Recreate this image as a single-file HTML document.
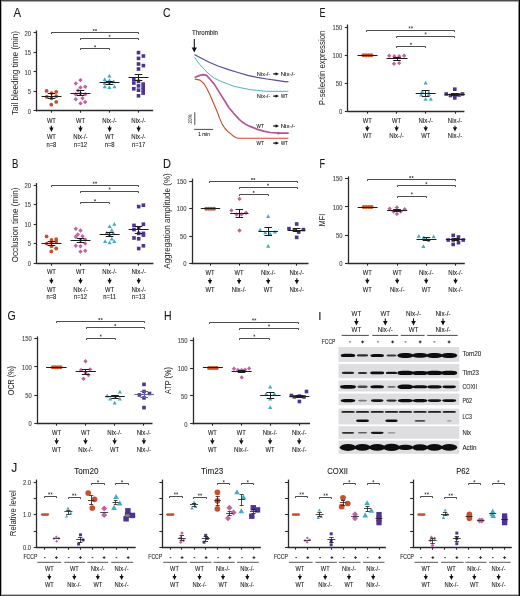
<!DOCTYPE html>
<html><head><meta charset="utf-8"><title>Figure</title>
<style>
html,body{margin:0;padding:0;background:#fff;}
body{width:520px;height:596px;overflow:hidden;}
svg{display:block;font-family:"Liberation Sans", sans-serif;will-change:transform;}
</style></head>
<body>
<svg width="520" height="596" viewBox="0 0 520 596">
<defs><filter id="bl" x="-20%" y="-60%" width="140%" height="220%"><feGaussianBlur stdDeviation="0.55"/></filter></defs>
<rect x="0" y="0" width="520" height="596" fill="#fff"/>
<text x="13.4" y="17" font-size="12" text-anchor="start" fill="#1a1a1a" stroke="#1a1a1a" stroke-width="0.1" textLength="7.6" lengthAdjust="spacingAndGlyphs">A</text>
<line x1="36.5" y1="30.5" x2="36.5" y2="111.3" stroke="#2a2a2a" stroke-width="1.3"/>
<line x1="33.6" y1="32.5" x2="36.5" y2="32.5" stroke="#2a2a2a" stroke-width="1.1"/>
<text x="31" y="35.5" font-size="6.8" text-anchor="end" fill="#444" stroke="#444" stroke-width="0.1" textLength="6.5" lengthAdjust="spacingAndGlyphs">20</text>
<line x1="33.6" y1="52.5" x2="36.5" y2="52.5" stroke="#2a2a2a" stroke-width="1.1"/>
<text x="31" y="55" font-size="6.8" text-anchor="end" fill="#444" stroke="#444" stroke-width="0.1" textLength="6.5" lengthAdjust="spacingAndGlyphs">15</text>
<line x1="33.6" y1="71.5" x2="36.5" y2="71.5" stroke="#2a2a2a" stroke-width="1.1"/>
<text x="31" y="74.5" font-size="6.8" text-anchor="end" fill="#444" stroke="#444" stroke-width="0.1" textLength="6.5" lengthAdjust="spacingAndGlyphs">10</text>
<line x1="33.6" y1="91.5" x2="36.5" y2="91.5" stroke="#2a2a2a" stroke-width="1.1"/>
<text x="31" y="94" font-size="6.8" text-anchor="end" fill="#444" stroke="#444" stroke-width="0.1" textLength="3.25" lengthAdjust="spacingAndGlyphs">5</text>
<line x1="33.6" y1="110.5" x2="36.5" y2="110.5" stroke="#2a2a2a" stroke-width="1.1"/>
<text x="31" y="113.5" font-size="6.8" text-anchor="end" fill="#444" stroke="#444" stroke-width="0.1" textLength="3.25" lengthAdjust="spacingAndGlyphs">0</text>
<line x1="36.1" y1="110.5" x2="153.2" y2="110.5" stroke="#2a2a2a" stroke-width="1.3"/>
<line x1="51.5" y1="110.5" x2="51.5" y2="112.7" stroke="#2a2a2a" stroke-width="1.1"/>
<line x1="80.5" y1="110.5" x2="80.5" y2="112.7" stroke="#2a2a2a" stroke-width="1.1"/>
<line x1="109.5" y1="110.5" x2="109.5" y2="112.7" stroke="#2a2a2a" stroke-width="1.1"/>
<line x1="138.5" y1="110.5" x2="138.5" y2="112.7" stroke="#2a2a2a" stroke-width="1.1"/>
<text transform="translate(18.3 73) rotate(-90)" x="0" y="0" font-size="8.2" text-anchor="middle" fill="#222" textLength="84" lengthAdjust="spacingAndGlyphs">Tail bleeding time (min)</text>
<path d="M51.5 34L51.5 32.5L138.5 32.5L138.5 34" fill="none" stroke="#3a3a3a" stroke-width="0.9"/>
<path d="M93.6 29.05L93.6 30.95M92.77 29.52L94.43 30.48M92.77 30.48L94.43 29.52" stroke="#3a3a3a" stroke-width="0.65" fill="none"/>
<path d="M96 29.05L96 30.95M95.17 29.52L96.83 30.48M95.17 30.48L96.83 29.52" stroke="#3a3a3a" stroke-width="0.65" fill="none"/>
<path d="M80.5 40L80.5 38.5L138.5 38.5L138.5 40" fill="none" stroke="#3a3a3a" stroke-width="0.9"/>
<path d="M109.55 34.85L109.55 36.75M108.72 35.32L110.38 36.27M108.72 36.27L110.38 35.32" stroke="#3a3a3a" stroke-width="0.65" fill="none"/>
<path d="M80.5 50L80.5 48.5L109.5 48.5L109.5 50" fill="none" stroke="#3a3a3a" stroke-width="0.9"/>
<path d="M95.15 45.35L95.15 47.25M94.32 45.82L95.98 46.77M94.32 46.77L95.98 45.82" stroke="#3a3a3a" stroke-width="0.65" fill="none"/>
<circle cx="46.6" cy="90.9" r="1.9" fill="#c94f2b"/>
<circle cx="51.5" cy="93.1" r="1.9" fill="#c94f2b"/>
<circle cx="56.2" cy="91.8" r="1.9" fill="#c94f2b"/>
<circle cx="46.8" cy="96.9" r="1.9" fill="#c94f2b"/>
<circle cx="51.5" cy="98.3" r="1.9" fill="#c94f2b"/>
<circle cx="56.2" cy="96.2" r="1.9" fill="#c94f2b"/>
<circle cx="56.2" cy="101.9" r="1.9" fill="#c94f2b"/>
<circle cx="51.3" cy="104.7" r="1.9" fill="#c94f2b"/>
<line x1="51.5" y1="93.5" x2="51.5" y2="98.5" stroke="#1e1e1e" stroke-width="1"/>
<line x1="47.7" y1="93.5" x2="55.3" y2="93.5" stroke="#1e1e1e" stroke-width="1"/>
<line x1="47.7" y1="98.5" x2="55.3" y2="98.5" stroke="#1e1e1e" stroke-width="1"/>
<line x1="41.5" y1="96.5" x2="61.5" y2="96.5" stroke="#1e1e1e" stroke-width="1"/>
<path d="M80.5 77.91L82.69 80.1L80.5 82.28L78.31 80.1Z" fill="#c2629f"/>
<path d="M75.8 81.31L77.98 83.5L75.8 85.69L73.61 83.5Z" fill="#c2629f"/>
<path d="M80.5 85.31L82.69 87.5L80.5 89.69L78.31 87.5Z" fill="#c2629f"/>
<path d="M85.2 84.61L87.39 86.8L85.2 88.98L83.02 86.8Z" fill="#c2629f"/>
<path d="M75.8 92.02L77.98 94.2L75.8 96.39L73.61 94.2Z" fill="#c2629f"/>
<path d="M80.5 91.31L82.69 93.5L80.5 95.69L78.31 93.5Z" fill="#c2629f"/>
<path d="M85.2 92.02L87.39 94.2L85.2 96.39L83.02 94.2Z" fill="#c2629f"/>
<path d="M75.8 97.11L77.98 99.3L75.8 101.48L73.61 99.3Z" fill="#c2629f"/>
<path d="M82.5 96.11L84.69 98.3L82.5 100.48L80.31 98.3Z" fill="#c2629f"/>
<path d="M85.2 99.81L87.39 102L85.2 104.19L83.02 102Z" fill="#c2629f"/>
<path d="M80.5 101.22L82.69 103.4L80.5 105.59L78.31 103.4Z" fill="#c2629f"/>
<path d="M78 88.31L80.19 90.5L78 92.69L75.81 90.5Z" fill="#c2629f"/>
<line x1="80.5" y1="90.5" x2="80.5" y2="95.5" stroke="#1e1e1e" stroke-width="1"/>
<line x1="76.7" y1="90.5" x2="84.3" y2="90.5" stroke="#1e1e1e" stroke-width="1"/>
<line x1="76.7" y1="95.5" x2="84.3" y2="95.5" stroke="#1e1e1e" stroke-width="1"/>
<line x1="70.5" y1="93.5" x2="90.5" y2="93.5" stroke="#1e1e1e" stroke-width="1"/>
<path d="M109.4 73.83L111.49 77.59L107.31 77.59Z" fill="#43aebf"/>
<path d="M104.7 77.33L106.79 81.09L102.61 81.09Z" fill="#43aebf"/>
<path d="M109.4 78.23L111.49 81.99L107.31 81.99Z" fill="#43aebf"/>
<path d="M113.8 79.53L115.89 83.29L111.71 83.29Z" fill="#43aebf"/>
<path d="M104.7 80.93L106.79 84.69L102.61 84.69Z" fill="#43aebf"/>
<path d="M109.4 80.93L111.49 84.69L107.31 84.69Z" fill="#43aebf"/>
<path d="M104.7 84.53L106.79 88.29L102.61 88.29Z" fill="#43aebf"/>
<path d="M109.4 85.33L111.49 89.09L107.31 89.09Z" fill="#43aebf"/>
<path d="M114.5 84.53L116.59 88.29L112.41 88.29Z" fill="#43aebf"/>
<line x1="109.5" y1="81.5" x2="109.5" y2="84.5" stroke="#1e1e1e" stroke-width="1"/>
<line x1="105.7" y1="81.5" x2="113.3" y2="81.5" stroke="#1e1e1e" stroke-width="1"/>
<line x1="105.7" y1="84.5" x2="113.3" y2="84.5" stroke="#1e1e1e" stroke-width="1"/>
<line x1="99.5" y1="82.5" x2="119.5" y2="82.5" stroke="#1e1e1e" stroke-width="1"/>
<rect x="136.69" y="50.8" width="3.61" height="3.61" fill="#4e3490"/>
<rect x="141.59" y="54.2" width="3.61" height="3.61" fill="#4e3490"/>
<rect x="136.69" y="56.59" width="3.61" height="3.61" fill="#4e3490"/>
<rect x="136.69" y="62.2" width="3.61" height="3.61" fill="#4e3490"/>
<rect x="141.59" y="63.79" width="3.61" height="3.61" fill="#4e3490"/>
<rect x="136.69" y="67.19" width="3.61" height="3.61" fill="#4e3490"/>
<rect x="132" y="77.59" width="3.61" height="3.61" fill="#4e3490"/>
<rect x="132" y="81.19" width="3.61" height="3.61" fill="#4e3490"/>
<rect x="136.69" y="79.59" width="3.61" height="3.61" fill="#4e3490"/>
<rect x="141.39" y="82.29" width="3.61" height="3.61" fill="#4e3490"/>
<rect x="141.39" y="85.39" width="3.61" height="3.61" fill="#4e3490"/>
<rect x="136.69" y="84.09" width="3.61" height="3.61" fill="#4e3490"/>
<rect x="132" y="86.99" width="3.61" height="3.61" fill="#4e3490"/>
<rect x="136.69" y="88.39" width="3.61" height="3.61" fill="#4e3490"/>
<rect x="141.39" y="88.39" width="3.61" height="3.61" fill="#4e3490"/>
<rect x="141.39" y="91.29" width="3.61" height="3.61" fill="#4e3490"/>
<rect x="136.69" y="93.99" width="3.61" height="3.61" fill="#4e3490"/>
<line x1="138.5" y1="74.5" x2="138.5" y2="80.5" stroke="#1e1e1e" stroke-width="1"/>
<line x1="134.7" y1="74.5" x2="142.3" y2="74.5" stroke="#1e1e1e" stroke-width="1"/>
<line x1="134.7" y1="80.5" x2="142.3" y2="80.5" stroke="#1e1e1e" stroke-width="1"/>
<line x1="128.5" y1="77.5" x2="148.5" y2="77.5" stroke="#1e1e1e" stroke-width="1"/>
<text x="51.4" y="123" font-size="7" text-anchor="middle" fill="#222" stroke="#222" stroke-width="0.1" textLength="9" lengthAdjust="spacingAndGlyphs">WT</text>
<line x1="51.4" y1="125.8" x2="51.4" y2="127.9" stroke="#111" stroke-width="1.1"/>
<path d="M49.2 127.6L53.6 127.6L51.4 131.9Z" fill="#111"/>
<text x="51.4" y="138.9" font-size="7" text-anchor="middle" fill="#222" stroke="#222" stroke-width="0.1" textLength="9" lengthAdjust="spacingAndGlyphs">WT</text>
<text x="51.4" y="146.6" font-size="6.3" text-anchor="middle" fill="#222" stroke="#222" stroke-width="0.1" textLength="9.94" lengthAdjust="spacingAndGlyphs">n=8</text>
<text x="80.5" y="123" font-size="7" text-anchor="middle" fill="#222" stroke="#222" stroke-width="0.1" textLength="9" lengthAdjust="spacingAndGlyphs">WT</text>
<line x1="80.5" y1="125.8" x2="80.5" y2="127.9" stroke="#111" stroke-width="1.1"/>
<path d="M78.3 127.6L82.7 127.6L80.5 131.9Z" fill="#111"/>
<text x="80.5" y="138.9" font-size="7" text-anchor="middle" fill="#222" stroke="#222" stroke-width="0.1" textLength="14.5" lengthAdjust="spacingAndGlyphs">Nix-/-</text>
<text x="80.5" y="146.6" font-size="6.3" text-anchor="middle" fill="#222" stroke="#222" stroke-width="0.1" textLength="13.2" lengthAdjust="spacingAndGlyphs">n=12</text>
<text x="109.6" y="123" font-size="7" text-anchor="middle" fill="#222" stroke="#222" stroke-width="0.1" textLength="14.5" lengthAdjust="spacingAndGlyphs">Nix-/-</text>
<line x1="109.6" y1="125.8" x2="109.6" y2="127.9" stroke="#111" stroke-width="1.1"/>
<path d="M107.4 127.6L111.8 127.6L109.6 131.9Z" fill="#111"/>
<text x="109.6" y="138.9" font-size="7" text-anchor="middle" fill="#222" stroke="#222" stroke-width="0.1" textLength="9" lengthAdjust="spacingAndGlyphs">WT</text>
<text x="109.6" y="146.6" font-size="6.3" text-anchor="middle" fill="#222" stroke="#222" stroke-width="0.1" textLength="9.94" lengthAdjust="spacingAndGlyphs">n=8</text>
<text x="138.6" y="123" font-size="7" text-anchor="middle" fill="#222" stroke="#222" stroke-width="0.1" textLength="14.5" lengthAdjust="spacingAndGlyphs">Nix-/-</text>
<line x1="138.6" y1="125.8" x2="138.6" y2="127.9" stroke="#111" stroke-width="1.1"/>
<path d="M136.4 127.6L140.8 127.6L138.6 131.9Z" fill="#111"/>
<text x="138.6" y="138.9" font-size="7" text-anchor="middle" fill="#222" stroke="#222" stroke-width="0.1" textLength="14.5" lengthAdjust="spacingAndGlyphs">Nix-/-</text>
<text x="138.6" y="146.6" font-size="6.3" text-anchor="middle" fill="#222" stroke="#222" stroke-width="0.1" textLength="13.2" lengthAdjust="spacingAndGlyphs">n=17</text>
<text x="11.9" y="167.6" font-size="12" text-anchor="start" fill="#1a1a1a" stroke="#1a1a1a" stroke-width="0.1" textLength="6.4" lengthAdjust="spacingAndGlyphs">B</text>
<line x1="36.5" y1="183" x2="36.5" y2="263.8" stroke="#2a2a2a" stroke-width="1.3"/>
<line x1="33.7" y1="185.5" x2="36.5" y2="185.5" stroke="#2a2a2a" stroke-width="1.1"/>
<text x="31.1" y="187.8" font-size="6.8" text-anchor="end" fill="#444" stroke="#444" stroke-width="0.1" textLength="6.5" lengthAdjust="spacingAndGlyphs">20</text>
<line x1="33.7" y1="204.5" x2="36.5" y2="204.5" stroke="#2a2a2a" stroke-width="1.1"/>
<text x="31.1" y="207.35" font-size="6.8" text-anchor="end" fill="#444" stroke="#444" stroke-width="0.1" textLength="6.5" lengthAdjust="spacingAndGlyphs">15</text>
<line x1="33.7" y1="224.5" x2="36.5" y2="224.5" stroke="#2a2a2a" stroke-width="1.1"/>
<text x="31.1" y="226.9" font-size="6.8" text-anchor="end" fill="#444" stroke="#444" stroke-width="0.1" textLength="6.5" lengthAdjust="spacingAndGlyphs">10</text>
<line x1="33.7" y1="243.5" x2="36.5" y2="243.5" stroke="#2a2a2a" stroke-width="1.1"/>
<text x="31.1" y="246.45" font-size="6.8" text-anchor="end" fill="#444" stroke="#444" stroke-width="0.1" textLength="3.25" lengthAdjust="spacingAndGlyphs">5</text>
<line x1="33.7" y1="263.5" x2="36.5" y2="263.5" stroke="#2a2a2a" stroke-width="1.1"/>
<text x="31.1" y="266" font-size="6.8" text-anchor="end" fill="#444" stroke="#444" stroke-width="0.1" textLength="3.25" lengthAdjust="spacingAndGlyphs">0</text>
<line x1="36.2" y1="263.5" x2="153.4" y2="263.5" stroke="#2a2a2a" stroke-width="1.3"/>
<line x1="51.5" y1="263.5" x2="51.5" y2="265.7" stroke="#2a2a2a" stroke-width="1.1"/>
<line x1="80.5" y1="263.5" x2="80.5" y2="265.7" stroke="#2a2a2a" stroke-width="1.1"/>
<line x1="109.5" y1="263.5" x2="109.5" y2="265.7" stroke="#2a2a2a" stroke-width="1.1"/>
<line x1="138.5" y1="263.5" x2="138.5" y2="265.7" stroke="#2a2a2a" stroke-width="1.1"/>
<text transform="translate(18.3 225) rotate(-90)" x="0" y="0" font-size="8.2" text-anchor="middle" fill="#222" textLength="75" lengthAdjust="spacingAndGlyphs">Occlusion time (min)</text>
<path d="M51.5 187L51.5 185.5L138.5 185.5L138.5 187" fill="none" stroke="#3a3a3a" stroke-width="0.9"/>
<path d="M93.65 181.75L93.65 183.65M92.82 182.23L94.48 183.18M92.82 183.18L94.48 182.23" stroke="#3a3a3a" stroke-width="0.65" fill="none"/>
<path d="M96.05 181.75L96.05 183.65M95.22 182.23L96.88 183.18M95.22 183.18L96.88 182.23" stroke="#3a3a3a" stroke-width="0.65" fill="none"/>
<path d="M80.5 193L80.5 191.5L138.5 191.5L138.5 193" fill="none" stroke="#3a3a3a" stroke-width="0.9"/>
<path d="M109.6 187.55L109.6 189.45M108.77 188.03L110.43 188.97M108.77 188.97L110.43 188.03" stroke="#3a3a3a" stroke-width="0.65" fill="none"/>
<path d="M80.5 204L80.5 202.5L109.5 202.5L109.5 204" fill="none" stroke="#3a3a3a" stroke-width="0.9"/>
<path d="M95.05 199.35L95.05 201.25M94.22 199.83L95.88 200.78M94.22 200.78L95.88 199.83" stroke="#3a3a3a" stroke-width="0.65" fill="none"/>
<circle cx="46.6" cy="236.4" r="1.9" fill="#c94f2b"/>
<circle cx="51.5" cy="239.9" r="1.9" fill="#c94f2b"/>
<circle cx="56.2" cy="239.1" r="1.9" fill="#c94f2b"/>
<circle cx="46.8" cy="243.6" r="1.9" fill="#c94f2b"/>
<circle cx="51.5" cy="242.2" r="1.9" fill="#c94f2b"/>
<circle cx="56.2" cy="241.5" r="1.9" fill="#c94f2b"/>
<circle cx="51.5" cy="246.2" r="1.9" fill="#c94f2b"/>
<circle cx="56.2" cy="248.5" r="1.9" fill="#c94f2b"/>
<circle cx="51.3" cy="251.4" r="1.9" fill="#c94f2b"/>
<line x1="51.5" y1="241.5" x2="51.5" y2="245.5" stroke="#1e1e1e" stroke-width="1"/>
<line x1="47.7" y1="241.5" x2="55.3" y2="241.5" stroke="#1e1e1e" stroke-width="1"/>
<line x1="47.7" y1="245.5" x2="55.3" y2="245.5" stroke="#1e1e1e" stroke-width="1"/>
<line x1="41.5" y1="243.5" x2="61.5" y2="243.5" stroke="#1e1e1e" stroke-width="1"/>
<path d="M75.8 226.51L77.98 228.7L75.8 230.88L73.61 228.7Z" fill="#c2629f"/>
<path d="M80.5 228.31L82.69 230.5L80.5 232.69L78.31 230.5Z" fill="#c2629f"/>
<path d="M77.8 232.31L79.98 234.5L77.8 236.69L75.61 234.5Z" fill="#c2629f"/>
<path d="M75.8 234.62L77.98 236.8L75.8 238.99L73.61 236.8Z" fill="#c2629f"/>
<path d="M82.5 234.01L84.69 236.2L82.5 238.38L80.31 236.2Z" fill="#c2629f"/>
<path d="M85.2 237.31L87.39 239.5L85.2 241.69L83.02 239.5Z" fill="#c2629f"/>
<path d="M80.5 238.01L82.69 240.2L80.5 242.38L78.31 240.2Z" fill="#c2629f"/>
<path d="M85.2 241.41L87.39 243.6L85.2 245.78L83.02 243.6Z" fill="#c2629f"/>
<path d="M75.8 243.62L77.98 245.8L75.8 247.99L73.61 245.8Z" fill="#c2629f"/>
<path d="M80.5 244.01L82.69 246.2L80.5 248.38L78.31 246.2Z" fill="#c2629f"/>
<path d="M80.5 249.41L82.69 251.6L80.5 253.78L78.31 251.6Z" fill="#c2629f"/>
<path d="M85.2 248.51L87.39 250.7L85.2 252.88L83.02 250.7Z" fill="#c2629f"/>
<line x1="80.5" y1="238.5" x2="80.5" y2="242.5" stroke="#1e1e1e" stroke-width="1"/>
<line x1="76.7" y1="238.5" x2="84.3" y2="238.5" stroke="#1e1e1e" stroke-width="1"/>
<line x1="76.7" y1="242.5" x2="84.3" y2="242.5" stroke="#1e1e1e" stroke-width="1"/>
<line x1="70.5" y1="240.5" x2="90.5" y2="240.5" stroke="#1e1e1e" stroke-width="1"/>
<path d="M114.3 221.93L116.39 225.69L112.21 225.69Z" fill="#43aebf"/>
<path d="M109.6 224.13L111.69 227.89L107.51 227.89Z" fill="#43aebf"/>
<path d="M111.8 228.03L113.89 231.79L109.71 231.79Z" fill="#43aebf"/>
<path d="M106.8 230.83L108.89 234.59L104.71 234.59Z" fill="#43aebf"/>
<path d="M113.5 231.33L115.59 235.09L111.41 235.09Z" fill="#43aebf"/>
<path d="M109.6 232.53L111.69 236.29L107.51 236.29Z" fill="#43aebf"/>
<path d="M111.8 236.73L113.89 240.49L109.71 240.49Z" fill="#43aebf"/>
<path d="M105.1 239.23L107.19 242.99L103.01 242.99Z" fill="#43aebf"/>
<path d="M109.6 240.43L111.69 244.19L107.51 244.19Z" fill="#43aebf"/>
<path d="M114.3 239.23L116.39 242.99L112.21 242.99Z" fill="#43aebf"/>
<line x1="109.5" y1="232.5" x2="109.5" y2="236.5" stroke="#1e1e1e" stroke-width="1"/>
<line x1="105.8" y1="232.5" x2="113.4" y2="232.5" stroke="#1e1e1e" stroke-width="1"/>
<line x1="105.8" y1="236.5" x2="113.4" y2="236.5" stroke="#1e1e1e" stroke-width="1"/>
<line x1="99.6" y1="234.5" x2="119.6" y2="234.5" stroke="#1e1e1e" stroke-width="1"/>
<rect x="136.89" y="204.79" width="3.61" height="3.61" fill="#4e3490"/>
<rect x="141.59" y="203.39" width="3.61" height="3.61" fill="#4e3490"/>
<rect x="132.19" y="223.59" width="3.61" height="3.61" fill="#4e3490"/>
<rect x="141.59" y="222.39" width="3.61" height="3.61" fill="#4e3490"/>
<rect x="132.19" y="227.79" width="3.61" height="3.61" fill="#4e3490"/>
<rect x="136.89" y="226.09" width="3.61" height="3.61" fill="#4e3490"/>
<rect x="136.89" y="231.59" width="3.61" height="3.61" fill="#4e3490"/>
<rect x="141.59" y="231.59" width="3.61" height="3.61" fill="#4e3490"/>
<rect x="132.19" y="236.19" width="3.61" height="3.61" fill="#4e3490"/>
<rect x="136.89" y="237" width="3.61" height="3.61" fill="#4e3490"/>
<rect x="141.59" y="233.29" width="3.61" height="3.61" fill="#4e3490"/>
<rect x="136.89" y="246.69" width="3.61" height="3.61" fill="#4e3490"/>
<rect x="141.59" y="244" width="3.61" height="3.61" fill="#4e3490"/>
<line x1="138.5" y1="226.5" x2="138.5" y2="233.5" stroke="#1e1e1e" stroke-width="1"/>
<line x1="134.8" y1="226.5" x2="142.4" y2="226.5" stroke="#1e1e1e" stroke-width="1"/>
<line x1="134.8" y1="233.5" x2="142.4" y2="233.5" stroke="#1e1e1e" stroke-width="1"/>
<line x1="128.6" y1="229.5" x2="148.6" y2="229.5" stroke="#1e1e1e" stroke-width="1"/>
<text x="51.4" y="274.3" font-size="7" text-anchor="middle" fill="#222" stroke="#222" stroke-width="0.1" textLength="9" lengthAdjust="spacingAndGlyphs">WT</text>
<line x1="51.4" y1="278" x2="51.4" y2="280.1" stroke="#111" stroke-width="1.1"/>
<path d="M49.2 279.8L53.6 279.8L51.4 284.1Z" fill="#111"/>
<text x="51.4" y="291.6" font-size="7" text-anchor="middle" fill="#222" stroke="#222" stroke-width="0.1" textLength="9" lengthAdjust="spacingAndGlyphs">WT</text>
<text x="51.4" y="299.3" font-size="6.3" text-anchor="middle" fill="#222" stroke="#222" stroke-width="0.1" textLength="9.94" lengthAdjust="spacingAndGlyphs">n=8</text>
<text x="80.5" y="274.3" font-size="7" text-anchor="middle" fill="#222" stroke="#222" stroke-width="0.1" textLength="9" lengthAdjust="spacingAndGlyphs">WT</text>
<line x1="80.5" y1="278" x2="80.5" y2="280.1" stroke="#111" stroke-width="1.1"/>
<path d="M78.3 279.8L82.7 279.8L80.5 284.1Z" fill="#111"/>
<text x="80.5" y="291.6" font-size="7" text-anchor="middle" fill="#222" stroke="#222" stroke-width="0.1" textLength="14.5" lengthAdjust="spacingAndGlyphs">Nix-/-</text>
<text x="80.5" y="299.3" font-size="6.3" text-anchor="middle" fill="#222" stroke="#222" stroke-width="0.1" textLength="13.2" lengthAdjust="spacingAndGlyphs">n=12</text>
<text x="109.6" y="274.3" font-size="7" text-anchor="middle" fill="#222" stroke="#222" stroke-width="0.1" textLength="14.5" lengthAdjust="spacingAndGlyphs">Nix-/-</text>
<line x1="109.6" y1="278" x2="109.6" y2="280.1" stroke="#111" stroke-width="1.1"/>
<path d="M107.4 279.8L111.8 279.8L109.6 284.1Z" fill="#111"/>
<text x="109.6" y="291.6" font-size="7" text-anchor="middle" fill="#222" stroke="#222" stroke-width="0.1" textLength="9" lengthAdjust="spacingAndGlyphs">WT</text>
<text x="109.6" y="299.3" font-size="6.3" text-anchor="middle" fill="#222" stroke="#222" stroke-width="0.1" textLength="12.76" lengthAdjust="spacingAndGlyphs">n=11</text>
<text x="138.7" y="274.3" font-size="7" text-anchor="middle" fill="#222" stroke="#222" stroke-width="0.1" textLength="14.5" lengthAdjust="spacingAndGlyphs">Nix-/-</text>
<line x1="138.7" y1="278" x2="138.7" y2="280.1" stroke="#111" stroke-width="1.1"/>
<path d="M136.5 279.8L140.9 279.8L138.7 284.1Z" fill="#111"/>
<text x="138.7" y="291.6" font-size="7" text-anchor="middle" fill="#222" stroke="#222" stroke-width="0.1" textLength="14.5" lengthAdjust="spacingAndGlyphs">Nix-/-</text>
<text x="138.7" y="299.3" font-size="6.3" text-anchor="middle" fill="#222" stroke="#222" stroke-width="0.1" textLength="13.2" lengthAdjust="spacingAndGlyphs">n=13</text>
<text x="163.1" y="17.3" font-size="12" text-anchor="start" fill="#1a1a1a" stroke="#1a1a1a" stroke-width="0.1" textLength="7.6" lengthAdjust="spacingAndGlyphs">C</text>
<text x="192" y="34.6" font-size="6.3" text-anchor="start" fill="#222" stroke="#222" stroke-width="0.1" textLength="26" lengthAdjust="spacingAndGlyphs">Thrombin</text>
<line x1="194.3" y1="39" x2="194.3" y2="47.9" stroke="#111" stroke-width="1.1"/>
<path d="M191.7 47.6L196.9 47.6L194.3 52.6Z" fill="#111"/>
<path d="M194.8 54.8 L200 57.5 L209.2 62.3 L218 66 L228.5 69.6 L238 72.5 L247.7 75.3 L257 77.4 L266.9 79 L276.5 80.4 L286.5 81.8 L288 81.6" fill="none" stroke="#5b4a9c" stroke-width="1.2" stroke-linejoin="round" stroke-linecap="round"/>
<path d="M194.8 57.9 L199.6 64.2 L204.8 70 L209.6 74.6 L214.4 78.3 L219.2 80.5 L224 82.5 L228.8 84.4 L233.7 86.2 L238.5 87.3 L243.3 88.3 L250 89.6 L256.8 90.4 L266.2 91.3 L288 91.3" fill="none" stroke="#4db5c0" stroke-width="1" stroke-linejoin="round" stroke-linecap="round"/>
<path d="M195.2 77.2 L199 75.6 L203 74.6 L206.5 75.4 L209.6 78.7 L214.4 84.4 L219.2 92.1 L224 99.8 L228.8 107.5 L233.7 113.3 L238.5 118.6 L242.1 122 L246 124.4 L250.1 126.4 L256.8 129.1 L263.6 131.1 L270.3 132.5 L278.3 133.2 L288 133.2" fill="none" stroke="#b4559a" stroke-width="1.7" stroke-linejoin="round" stroke-linecap="round"/>
<circle cx="278.3" cy="133.2" r="1.4" fill="#b4559a"/>
<path d="M195.2 79.1 L200 80.1 L203.8 83.5 L206.7 88.3 L209.6 94 L212.5 100.8 L215.4 107.5 L217.8 113.3 L219.7 118.6 L222.3 124.4 L225 128.5 L228 131.6 L230 133.2 L233 135.8 L235.4 137.5 L238 138.3 L288 138.3" fill="none" stroke="#cc4a28" stroke-width="1.1" stroke-linejoin="round" stroke-linecap="round"/>
<text x="256.8" y="75.9" font-size="5.6" text-anchor="start" fill="#222" stroke="#222" stroke-width="0.1" textLength="13.5" lengthAdjust="spacingAndGlyphs">Nix-/-</text>
<line x1="273.2" y1="73.9" x2="276" y2="73.9" stroke="#111" stroke-width="1.3"/>
<path d="M275.6 72.2L279 73.9L275.6 75.6Z" fill="#111"/>
<text x="280.7" y="75.9" font-size="5.6" text-anchor="start" fill="#222" stroke="#222" stroke-width="0.1" textLength="14.5" lengthAdjust="spacingAndGlyphs">Nix-/-</text>
<text x="256.8" y="98.1" font-size="5.6" text-anchor="start" fill="#222" stroke="#222" stroke-width="0.1" textLength="13.5" lengthAdjust="spacingAndGlyphs">Nix-/-</text>
<line x1="273.2" y1="96.1" x2="276" y2="96.1" stroke="#111" stroke-width="1.3"/>
<path d="M275.6 94.4L279 96.1L275.6 97.8Z" fill="#111"/>
<text x="280.9" y="98" font-size="5.2" text-anchor="start" fill="#222" stroke="#222" stroke-width="0.1" textLength="6.8" lengthAdjust="spacingAndGlyphs">WT</text>
<text x="256.6" y="127.9" font-size="5.2" text-anchor="start" fill="#222" stroke="#222" stroke-width="0.1" textLength="7.2" lengthAdjust="spacingAndGlyphs">WT</text>
<line x1="273.2" y1="126" x2="276" y2="126" stroke="#111" stroke-width="1.3"/>
<path d="M275.6 124.3L279 126L275.6 127.7Z" fill="#111"/>
<text x="280.7" y="128" font-size="5.6" text-anchor="start" fill="#222" stroke="#222" stroke-width="0.1" textLength="14.5" lengthAdjust="spacingAndGlyphs">Nix-/-</text>
<text x="256.6" y="145" font-size="5.2" text-anchor="start" fill="#222" stroke="#222" stroke-width="0.1" textLength="7.2" lengthAdjust="spacingAndGlyphs">WT</text>
<line x1="273.2" y1="143.1" x2="276" y2="143.1" stroke="#111" stroke-width="1.3"/>
<path d="M275.6 141.4L279 143.1L275.6 144.8Z" fill="#111"/>
<text x="280.9" y="145" font-size="5.2" text-anchor="start" fill="#222" stroke="#222" stroke-width="0.1" textLength="6.8" lengthAdjust="spacingAndGlyphs">WT</text>
<line x1="194.8" y1="112.4" x2="194.8" y2="124.8" stroke="#333" stroke-width="0.9"/>
<text transform="translate(192.2 118.8) rotate(-90)" font-size="5.0" text-anchor="middle" fill="#333" textLength="9.5" lengthAdjust="spacingAndGlyphs">20%</text>
<line x1="194.2" y1="129.4" x2="213.2" y2="129.4" stroke="#333" stroke-width="0.9"/>
<text x="204" y="135.8" font-size="5" text-anchor="middle" fill="#222" stroke="#222" stroke-width="0.1" textLength="11.5" lengthAdjust="spacingAndGlyphs">1 min</text>
<text x="163" y="167.6" font-size="12" text-anchor="start" fill="#1a1a1a" stroke="#1a1a1a" stroke-width="0.1" textLength="8" lengthAdjust="spacingAndGlyphs">D</text>
<line x1="192.5" y1="178.6" x2="192.5" y2="264.1" stroke="#2a2a2a" stroke-width="1.3"/>
<line x1="189.2" y1="181.5" x2="192.5" y2="181.5" stroke="#2a2a2a" stroke-width="1.1"/>
<text x="186.6" y="183.9" font-size="6.8" text-anchor="end" fill="#444" stroke="#444" stroke-width="0.1" textLength="9.76" lengthAdjust="spacingAndGlyphs">150</text>
<line x1="189.2" y1="208.5" x2="192.5" y2="208.5" stroke="#2a2a2a" stroke-width="1.1"/>
<text x="186.6" y="211.37" font-size="6.8" text-anchor="end" fill="#444" stroke="#444" stroke-width="0.1" textLength="9.76" lengthAdjust="spacingAndGlyphs">100</text>
<line x1="189.2" y1="236.5" x2="192.5" y2="236.5" stroke="#2a2a2a" stroke-width="1.1"/>
<text x="186.6" y="238.83" font-size="6.8" text-anchor="end" fill="#444" stroke="#444" stroke-width="0.1" textLength="6.5" lengthAdjust="spacingAndGlyphs">50</text>
<line x1="189.2" y1="263.5" x2="192.5" y2="263.5" stroke="#2a2a2a" stroke-width="1.1"/>
<text x="186.6" y="266.3" font-size="6.8" text-anchor="end" fill="#444" stroke="#444" stroke-width="0.1" textLength="3.25" lengthAdjust="spacingAndGlyphs">0</text>
<line x1="191.7" y1="263.5" x2="308.5" y2="263.5" stroke="#2a2a2a" stroke-width="1.3"/>
<line x1="210.5" y1="263.5" x2="210.5" y2="265.7" stroke="#2a2a2a" stroke-width="1.1"/>
<line x1="239.5" y1="263.5" x2="239.5" y2="265.7" stroke="#2a2a2a" stroke-width="1.1"/>
<line x1="268.5" y1="263.5" x2="268.5" y2="265.7" stroke="#2a2a2a" stroke-width="1.1"/>
<line x1="296.5" y1="263.5" x2="296.5" y2="265.7" stroke="#2a2a2a" stroke-width="1.1"/>
<text transform="translate(169.5 221) rotate(-90)" x="0" y="0" font-size="8.6" text-anchor="middle" fill="#222" textLength="95.5" lengthAdjust="spacingAndGlyphs">Aggregation amplitude (%)</text>
<path d="M209.5 183L209.5 181.5L297.5 181.5L297.5 183" fill="none" stroke="#3a3a3a" stroke-width="0.9"/>
<path d="M251.95 178.05L251.95 179.95M251.12 178.53L252.78 179.47M251.12 179.47L252.78 178.53" stroke="#3a3a3a" stroke-width="0.65" fill="none"/>
<path d="M254.35 178.05L254.35 179.95M253.52 178.53L255.18 179.47M253.52 179.47L255.18 178.53" stroke="#3a3a3a" stroke-width="0.65" fill="none"/>
<path d="M239.5 189L239.5 187.5L297.5 187.5L297.5 189" fill="none" stroke="#3a3a3a" stroke-width="0.9"/>
<path d="M268.05 183.75L268.05 185.65M267.22 184.23L268.88 185.18M267.22 185.18L268.88 184.23" stroke="#3a3a3a" stroke-width="0.65" fill="none"/>
<path d="M239.5 196L239.5 194.5L268.5 194.5L268.5 196" fill="none" stroke="#3a3a3a" stroke-width="0.9"/>
<path d="M253.65 190.95L253.65 192.85M252.82 191.43L254.48 192.38M252.82 192.38L254.48 191.43" stroke="#3a3a3a" stroke-width="0.65" fill="none"/>
<circle cx="206.2" cy="208.8" r="2" fill="#c94f2b"/>
<circle cx="208.8" cy="208.8" r="2" fill="#c94f2b"/>
<circle cx="211.4" cy="208.8" r="2" fill="#c94f2b"/>
<circle cx="214" cy="208.8" r="2" fill="#c94f2b"/>
<line x1="200.8" y1="208.5" x2="220.2" y2="208.5" stroke="#1e1e1e" stroke-width="1"/>
<path d="M239.5 196.72L241.69 198.9L239.5 201.09L237.31 198.9Z" fill="#c2629f"/>
<path d="M231.4 208.22L233.59 210.4L231.4 212.59L229.22 210.4Z" fill="#c2629f"/>
<path d="M236.5 212.22L238.69 214.4L236.5 216.59L234.31 214.4Z" fill="#c2629f"/>
<path d="M241.5 212.22L243.69 214.4L241.5 216.59L239.31 214.4Z" fill="#c2629f"/>
<path d="M246.1 210.62L248.28 212.8L246.1 214.99L243.91 212.8Z" fill="#c2629f"/>
<path d="M239.5 228.31L241.69 230.5L239.5 232.69L237.31 230.5Z" fill="#c2629f"/>
<line x1="239.5" y1="209.5" x2="239.5" y2="217.5" stroke="#1e1e1e" stroke-width="1"/>
<line x1="235.5" y1="209.5" x2="243.1" y2="209.5" stroke="#1e1e1e" stroke-width="1"/>
<line x1="235.5" y1="217.5" x2="243.1" y2="217.5" stroke="#1e1e1e" stroke-width="1"/>
<line x1="230.1" y1="213.5" x2="248.5" y2="213.5" stroke="#1e1e1e" stroke-width="1"/>
<path d="M268.2 214.23L270.29 217.99L266.11 217.99Z" fill="#43aebf"/>
<path d="M260.1 227.73L262.19 231.49L258.01 231.49Z" fill="#43aebf"/>
<path d="M265.2 230.53L267.29 234.29L263.11 234.29Z" fill="#43aebf"/>
<path d="M270.2 231.53L272.29 235.29L268.11 235.29Z" fill="#43aebf"/>
<path d="M274.9 229.83L276.99 233.59L272.81 233.59Z" fill="#43aebf"/>
<path d="M268.2 243.93L270.29 247.69L266.11 247.69Z" fill="#43aebf"/>
<line x1="268.5" y1="227.5" x2="268.5" y2="235.5" stroke="#1e1e1e" stroke-width="1"/>
<line x1="264.4" y1="227.5" x2="272" y2="227.5" stroke="#1e1e1e" stroke-width="1"/>
<line x1="264.4" y1="235.5" x2="272" y2="235.5" stroke="#1e1e1e" stroke-width="1"/>
<line x1="258.5" y1="231.5" x2="277.9" y2="231.5" stroke="#1e1e1e" stroke-width="1"/>
<rect x="294.89" y="222.19" width="3.61" height="3.61" fill="#4e3490"/>
<rect x="287.19" y="226.89" width="3.61" height="3.61" fill="#4e3490"/>
<rect x="292.69" y="228.09" width="3.61" height="3.61" fill="#4e3490"/>
<rect x="296.89" y="230.29" width="3.61" height="3.61" fill="#4e3490"/>
<rect x="301.59" y="227.79" width="3.61" height="3.61" fill="#4e3490"/>
<rect x="294.89" y="235.59" width="3.61" height="3.61" fill="#4e3490"/>
<line x1="296.5" y1="228.5" x2="296.5" y2="231.5" stroke="#1e1e1e" stroke-width="1"/>
<line x1="292.8" y1="228.5" x2="300.4" y2="228.5" stroke="#1e1e1e" stroke-width="1"/>
<line x1="292.8" y1="231.5" x2="300.4" y2="231.5" stroke="#1e1e1e" stroke-width="1"/>
<line x1="287.8" y1="230.5" x2="305.4" y2="230.5" stroke="#1e1e1e" stroke-width="1"/>
<text x="210" y="274.8" font-size="7" text-anchor="middle" fill="#222" stroke="#222" stroke-width="0.1" textLength="9" lengthAdjust="spacingAndGlyphs">WT</text>
<line x1="210" y1="278.3" x2="210" y2="280.3" stroke="#111" stroke-width="1.1"/>
<path d="M207.8 280L212.2 280L210 284.3Z" fill="#111"/>
<text x="210" y="291.6" font-size="7" text-anchor="middle" fill="#222" stroke="#222" stroke-width="0.1" textLength="9" lengthAdjust="spacingAndGlyphs">WT</text>
<text x="239.1" y="274.8" font-size="7" text-anchor="middle" fill="#222" stroke="#222" stroke-width="0.1" textLength="9" lengthAdjust="spacingAndGlyphs">WT</text>
<line x1="239.1" y1="278.3" x2="239.1" y2="280.3" stroke="#111" stroke-width="1.1"/>
<path d="M236.9 280L241.3 280L239.1 284.3Z" fill="#111"/>
<text x="239.1" y="291.6" font-size="7" text-anchor="middle" fill="#222" stroke="#222" stroke-width="0.1" textLength="14.5" lengthAdjust="spacingAndGlyphs">Nix-/-</text>
<text x="268.2" y="274.8" font-size="7" text-anchor="middle" fill="#222" stroke="#222" stroke-width="0.1" textLength="14.5" lengthAdjust="spacingAndGlyphs">Nix-/-</text>
<line x1="268.2" y1="278.3" x2="268.2" y2="280.3" stroke="#111" stroke-width="1.1"/>
<path d="M266 280L270.4 280L268.2 284.3Z" fill="#111"/>
<text x="268.2" y="291.6" font-size="7" text-anchor="middle" fill="#222" stroke="#222" stroke-width="0.1" textLength="9" lengthAdjust="spacingAndGlyphs">WT</text>
<text x="296.8" y="274.8" font-size="7" text-anchor="middle" fill="#222" stroke="#222" stroke-width="0.1" textLength="14.5" lengthAdjust="spacingAndGlyphs">Nix-/-</text>
<line x1="296.8" y1="278.3" x2="296.8" y2="280.3" stroke="#111" stroke-width="1.1"/>
<path d="M294.6 280L299 280L296.8 284.3Z" fill="#111"/>
<text x="296.8" y="291.6" font-size="7" text-anchor="middle" fill="#222" stroke="#222" stroke-width="0.1" textLength="14.5" lengthAdjust="spacingAndGlyphs">Nix-/-</text>
<text x="319.6" y="17.2" font-size="12" text-anchor="start" fill="#1a1a1a" stroke="#1a1a1a" stroke-width="0.1" textLength="6" lengthAdjust="spacingAndGlyphs">E</text>
<line x1="347.5" y1="24.5" x2="347.5" y2="111.6" stroke="#2a2a2a" stroke-width="1.3"/>
<line x1="344.8" y1="27.5" x2="347.5" y2="27.5" stroke="#2a2a2a" stroke-width="1.1"/>
<text x="342.2" y="29.7" font-size="6.8" text-anchor="end" fill="#444" stroke="#444" stroke-width="0.1" textLength="9.76" lengthAdjust="spacingAndGlyphs">150</text>
<line x1="344.8" y1="55.5" x2="347.5" y2="55.5" stroke="#2a2a2a" stroke-width="1.1"/>
<text x="342.2" y="57.73" font-size="6.8" text-anchor="end" fill="#444" stroke="#444" stroke-width="0.1" textLength="9.76" lengthAdjust="spacingAndGlyphs">100</text>
<line x1="344.8" y1="83.5" x2="347.5" y2="83.5" stroke="#2a2a2a" stroke-width="1.1"/>
<text x="342.2" y="85.77" font-size="6.8" text-anchor="end" fill="#444" stroke="#444" stroke-width="0.1" textLength="6.5" lengthAdjust="spacingAndGlyphs">50</text>
<line x1="344.8" y1="111.5" x2="347.5" y2="111.5" stroke="#2a2a2a" stroke-width="1.1"/>
<text x="342.2" y="113.8" font-size="6.8" text-anchor="end" fill="#444" stroke="#444" stroke-width="0.1" textLength="3.25" lengthAdjust="spacingAndGlyphs">0</text>
<line x1="347.3" y1="111.5" x2="464.4" y2="111.5" stroke="#2a2a2a" stroke-width="1.3"/>
<line x1="367.5" y1="111.5" x2="367.5" y2="113.7" stroke="#2a2a2a" stroke-width="1.1"/>
<line x1="396.5" y1="111.5" x2="396.5" y2="113.7" stroke="#2a2a2a" stroke-width="1.1"/>
<line x1="425.5" y1="111.5" x2="425.5" y2="113.7" stroke="#2a2a2a" stroke-width="1.1"/>
<line x1="455.5" y1="111.5" x2="455.5" y2="113.7" stroke="#2a2a2a" stroke-width="1.1"/>
<text transform="translate(325.2 67.9) rotate(-90)" x="0" y="0" font-size="8.8" text-anchor="middle" fill="#222" textLength="74.5" lengthAdjust="spacingAndGlyphs">P-selectin expression</text>
<path d="M366.5 32L366.5 30.5L454.5 30.5L454.5 32" fill="none" stroke="#3a3a3a" stroke-width="0.9"/>
<path d="M409.55 26.45L409.55 28.35M408.72 26.92L410.38 27.88M408.72 27.88L410.38 26.92" stroke="#3a3a3a" stroke-width="0.65" fill="none"/>
<path d="M411.95 26.45L411.95 28.35M411.12 26.92L412.78 27.88M411.12 27.88L412.78 26.92" stroke="#3a3a3a" stroke-width="0.65" fill="none"/>
<path d="M396.5 38L396.5 36.5L454.5 36.5L454.5 38" fill="none" stroke="#3a3a3a" stroke-width="0.9"/>
<path d="M425.6 32.45L425.6 34.35M424.77 32.92L426.43 33.88M424.77 33.88L426.43 32.92" stroke="#3a3a3a" stroke-width="0.65" fill="none"/>
<path d="M396.5 48L396.5 46.5L425.5 46.5L425.5 48" fill="none" stroke="#3a3a3a" stroke-width="0.9"/>
<path d="M411 42.85L411 44.75M410.17 43.32L411.83 44.27M410.17 44.27L411.83 43.32" stroke="#3a3a3a" stroke-width="0.65" fill="none"/>
<circle cx="363.4" cy="55.2" r="2" fill="#c94f2b"/>
<circle cx="366" cy="55.2" r="2" fill="#c94f2b"/>
<circle cx="368.8" cy="55.2" r="2" fill="#c94f2b"/>
<circle cx="371.4" cy="55.2" r="2" fill="#c94f2b"/>
<line x1="357.5" y1="55.5" x2="377.5" y2="55.5" stroke="#1e1e1e" stroke-width="1"/>
<path d="M389.2 53.61L391.38 55.8L389.2 57.98L387.01 55.8Z" fill="#c2629f"/>
<path d="M394.3 54.11L396.49 56.3L394.3 58.48L392.12 56.3Z" fill="#c2629f"/>
<path d="M399.2 54.11L401.38 56.3L399.2 58.48L397.01 56.3Z" fill="#c2629f"/>
<path d="M404.2 53.61L406.38 55.8L404.2 57.98L402.01 55.8Z" fill="#c2629f"/>
<path d="M394 61.61L396.19 63.8L394 65.98L391.81 63.8Z" fill="#c2629f"/>
<path d="M399.2 60.91L401.38 63.1L399.2 65.28L397.01 63.1Z" fill="#c2629f"/>
<line x1="397.5" y1="57.5" x2="397.5" y2="60.5" stroke="#1e1e1e" stroke-width="1"/>
<line x1="393.2" y1="57.5" x2="400.8" y2="57.5" stroke="#1e1e1e" stroke-width="1"/>
<line x1="393.2" y1="60.5" x2="400.8" y2="60.5" stroke="#1e1e1e" stroke-width="1"/>
<line x1="386.5" y1="58.5" x2="407.5" y2="58.5" stroke="#1e1e1e" stroke-width="1"/>
<path d="M425.6 80.63L427.69 84.39L423.51 84.39Z" fill="#43aebf"/>
<path d="M422.1 89.63L424.19 93.39L420.01 93.39Z" fill="#43aebf"/>
<path d="M428.8 90.23L430.89 93.99L426.71 93.99Z" fill="#43aebf"/>
<path d="M421.2 92.73L423.29 96.49L419.11 96.49Z" fill="#43aebf"/>
<path d="M428.8 92.13L430.89 95.89L426.71 95.89Z" fill="#43aebf"/>
<path d="M425.6 96.93L427.69 100.69L423.51 100.69Z" fill="#43aebf"/>
<path d="M430.8 96.93L432.89 100.69L428.71 100.69Z" fill="#43aebf"/>
<line x1="425.5" y1="90.5" x2="425.5" y2="96.5" stroke="#1e1e1e" stroke-width="1"/>
<line x1="421.9" y1="90.5" x2="429.5" y2="90.5" stroke="#1e1e1e" stroke-width="1"/>
<line x1="421.9" y1="96.5" x2="429.5" y2="96.5" stroke="#1e1e1e" stroke-width="1"/>
<line x1="415.7" y1="93.5" x2="435.7" y2="93.5" stroke="#1e1e1e" stroke-width="1"/>
<rect x="453" y="87.39" width="3.61" height="3.61" fill="#4e3490"/>
<rect x="444.39" y="92.19" width="3.61" height="3.61" fill="#4e3490"/>
<rect x="448.69" y="93.69" width="3.61" height="3.61" fill="#4e3490"/>
<rect x="453" y="93.69" width="3.61" height="3.61" fill="#4e3490"/>
<rect x="457.19" y="93.19" width="3.61" height="3.61" fill="#4e3490"/>
<rect x="460.69" y="92.19" width="3.61" height="3.61" fill="#4e3490"/>
<rect x="453" y="96.09" width="3.61" height="3.61" fill="#4e3490"/>
<line x1="454.5" y1="93.5" x2="454.5" y2="95.5" stroke="#1e1e1e" stroke-width="1"/>
<line x1="451" y1="93.5" x2="458.6" y2="93.5" stroke="#1e1e1e" stroke-width="1"/>
<line x1="451" y1="95.5" x2="458.6" y2="95.5" stroke="#1e1e1e" stroke-width="1"/>
<line x1="444.8" y1="94.5" x2="464.8" y2="94.5" stroke="#1e1e1e" stroke-width="1"/>
<text x="367.3" y="122.8" font-size="7" text-anchor="middle" fill="#222" stroke="#222" stroke-width="0.1" textLength="9" lengthAdjust="spacingAndGlyphs">WT</text>
<line x1="367.3" y1="125.8" x2="367.3" y2="127.5" stroke="#111" stroke-width="1.1"/>
<path d="M365.1 127.2L369.5 127.2L367.3 131.5Z" fill="#111"/>
<text x="367.3" y="138.3" font-size="7" text-anchor="middle" fill="#222" stroke="#222" stroke-width="0.1" textLength="9" lengthAdjust="spacingAndGlyphs">WT</text>
<text x="396.6" y="122.8" font-size="7" text-anchor="middle" fill="#222" stroke="#222" stroke-width="0.1" textLength="9" lengthAdjust="spacingAndGlyphs">WT</text>
<line x1="396.6" y1="125.8" x2="396.6" y2="127.5" stroke="#111" stroke-width="1.1"/>
<path d="M394.4 127.2L398.8 127.2L396.6 131.5Z" fill="#111"/>
<text x="396.6" y="138.3" font-size="7" text-anchor="middle" fill="#222" stroke="#222" stroke-width="0.1" textLength="14.5" lengthAdjust="spacingAndGlyphs">Nix-/-</text>
<text x="425.7" y="122.8" font-size="7" text-anchor="middle" fill="#222" stroke="#222" stroke-width="0.1" textLength="14.5" lengthAdjust="spacingAndGlyphs">Nix-/-</text>
<line x1="425.7" y1="125.8" x2="425.7" y2="127.5" stroke="#111" stroke-width="1.1"/>
<path d="M423.5 127.2L427.9 127.2L425.7 131.5Z" fill="#111"/>
<text x="425.7" y="138.3" font-size="7" text-anchor="middle" fill="#222" stroke="#222" stroke-width="0.1" textLength="9" lengthAdjust="spacingAndGlyphs">WT</text>
<text x="455" y="122.8" font-size="7" text-anchor="middle" fill="#222" stroke="#222" stroke-width="0.1" textLength="14.5" lengthAdjust="spacingAndGlyphs">Nix-/-</text>
<line x1="455" y1="125.8" x2="455" y2="127.5" stroke="#111" stroke-width="1.1"/>
<path d="M452.8 127.2L457.2 127.2L455 131.5Z" fill="#111"/>
<text x="455" y="138.3" font-size="7" text-anchor="middle" fill="#222" stroke="#222" stroke-width="0.1" textLength="14.5" lengthAdjust="spacingAndGlyphs">Nix-/-</text>
<text x="319.6" y="167.6" font-size="12" text-anchor="start" fill="#1a1a1a" stroke="#1a1a1a" stroke-width="0.1" textLength="5.6" lengthAdjust="spacingAndGlyphs">F</text>
<line x1="348.5" y1="176.4" x2="348.5" y2="263.9" stroke="#2a2a2a" stroke-width="1.3"/>
<line x1="345" y1="178.5" x2="348.5" y2="178.5" stroke="#2a2a2a" stroke-width="1.1"/>
<text x="342.4" y="181.2" font-size="6.8" text-anchor="end" fill="#444" stroke="#444" stroke-width="0.1" textLength="9.76" lengthAdjust="spacingAndGlyphs">150</text>
<line x1="345" y1="206.5" x2="348.5" y2="206.5" stroke="#2a2a2a" stroke-width="1.1"/>
<text x="342.4" y="209.5" font-size="6.8" text-anchor="end" fill="#444" stroke="#444" stroke-width="0.1" textLength="9.76" lengthAdjust="spacingAndGlyphs">100</text>
<line x1="345" y1="235.5" x2="348.5" y2="235.5" stroke="#2a2a2a" stroke-width="1.1"/>
<text x="342.4" y="237.8" font-size="6.8" text-anchor="end" fill="#444" stroke="#444" stroke-width="0.1" textLength="6.5" lengthAdjust="spacingAndGlyphs">50</text>
<line x1="345" y1="263.5" x2="348.5" y2="263.5" stroke="#2a2a2a" stroke-width="1.1"/>
<text x="342.4" y="266.1" font-size="6.8" text-anchor="end" fill="#444" stroke="#444" stroke-width="0.1" textLength="3.25" lengthAdjust="spacingAndGlyphs">0</text>
<line x1="347.5" y1="263.5" x2="464.8" y2="263.5" stroke="#2a2a2a" stroke-width="1.3"/>
<line x1="367.5" y1="263.5" x2="367.5" y2="265.7" stroke="#2a2a2a" stroke-width="1.1"/>
<line x1="397.5" y1="263.5" x2="397.5" y2="265.7" stroke="#2a2a2a" stroke-width="1.1"/>
<line x1="426.5" y1="263.5" x2="426.5" y2="265.7" stroke="#2a2a2a" stroke-width="1.1"/>
<line x1="455.5" y1="263.5" x2="455.5" y2="265.7" stroke="#2a2a2a" stroke-width="1.1"/>
<text transform="translate(325.3 220) rotate(-90)" x="0" y="0" font-size="8.8" text-anchor="middle" fill="#222" textLength="12.3" lengthAdjust="spacingAndGlyphs">MFI</text>
<path d="M367.5 181L367.5 179.5L455.5 179.5L455.5 181" fill="none" stroke="#3a3a3a" stroke-width="0.9"/>
<path d="M410.2 176.15L410.2 178.05M409.37 176.62L411.03 177.57M409.37 177.57L411.03 176.62" stroke="#3a3a3a" stroke-width="0.65" fill="none"/>
<path d="M412.6 176.15L412.6 178.05M411.77 176.62L413.43 177.57M411.77 177.57L413.43 176.62" stroke="#3a3a3a" stroke-width="0.65" fill="none"/>
<path d="M397.5 187L397.5 185.5L455.5 185.5L455.5 187" fill="none" stroke="#3a3a3a" stroke-width="0.9"/>
<path d="M426.4 182.25L426.4 184.15M425.57 182.73L427.23 183.68M425.57 183.68L427.23 182.73" stroke="#3a3a3a" stroke-width="0.65" fill="none"/>
<path d="M397.5 198L397.5 196.5L426.5 196.5L426.5 198" fill="none" stroke="#3a3a3a" stroke-width="0.9"/>
<path d="M411.8 192.45L411.8 194.35M410.97 192.93L412.63 193.88M410.97 193.88L412.63 192.93" stroke="#3a3a3a" stroke-width="0.65" fill="none"/>
<circle cx="363.6" cy="207" r="2" fill="#c94f2b"/>
<circle cx="366.2" cy="207" r="2" fill="#c94f2b"/>
<circle cx="369" cy="207" r="2" fill="#c94f2b"/>
<circle cx="371.6" cy="207" r="2" fill="#c94f2b"/>
<line x1="357.6" y1="207.5" x2="377.6" y2="207.5" stroke="#1e1e1e" stroke-width="1"/>
<path d="M389.7 206.62L391.88 208.8L389.7 210.99L387.51 208.8Z" fill="#c2629f"/>
<path d="M396.9 205.22L399.08 207.4L396.9 209.59L394.71 207.4Z" fill="#c2629f"/>
<path d="M404.7 207.12L406.88 209.3L404.7 211.49L402.51 209.3Z" fill="#c2629f"/>
<path d="M393.4 209.41L395.58 211.6L393.4 213.78L391.21 211.6Z" fill="#c2629f"/>
<path d="M400.8 209.41L402.99 211.6L400.8 213.78L398.62 211.6Z" fill="#c2629f"/>
<path d="M396.9 211.72L399.08 213.9L396.9 216.09L394.71 213.9Z" fill="#c2629f"/>
<line x1="397.5" y1="209.5" x2="397.5" y2="211.5" stroke="#1e1e1e" stroke-width="1"/>
<line x1="393.3" y1="209.5" x2="400.9" y2="209.5" stroke="#1e1e1e" stroke-width="1"/>
<line x1="393.3" y1="211.5" x2="400.9" y2="211.5" stroke="#1e1e1e" stroke-width="1"/>
<line x1="387" y1="210.5" x2="407.2" y2="210.5" stroke="#1e1e1e" stroke-width="1"/>
<path d="M418.8 233.93L420.89 237.69L416.71 237.69Z" fill="#43aebf"/>
<path d="M423.9 235.53L425.99 239.29L421.81 239.29Z" fill="#43aebf"/>
<path d="M433.6 234.43L435.69 238.19L431.51 238.19Z" fill="#43aebf"/>
<path d="M423.4 244.33L425.49 248.09L421.31 248.09Z" fill="#43aebf"/>
<circle cx="428.5" cy="240.4" r="1.8" fill="#43aebf"/>
<line x1="426.5" y1="237.5" x2="426.5" y2="240.5" stroke="#1e1e1e" stroke-width="1"/>
<line x1="422.7" y1="237.5" x2="430.3" y2="237.5" stroke="#1e1e1e" stroke-width="1"/>
<line x1="422.7" y1="240.5" x2="430.3" y2="240.5" stroke="#1e1e1e" stroke-width="1"/>
<line x1="416.5" y1="239.5" x2="436.5" y2="239.5" stroke="#1e1e1e" stroke-width="1"/>
<rect x="451.39" y="233.59" width="3.61" height="3.61" fill="#4e3490"/>
<rect x="456.69" y="235.19" width="3.61" height="3.61" fill="#4e3490"/>
<rect x="446.39" y="238.19" width="3.61" height="3.61" fill="#4e3490"/>
<rect x="451.39" y="238.19" width="3.61" height="3.61" fill="#4e3490"/>
<rect x="461.39" y="238.19" width="3.61" height="3.61" fill="#4e3490"/>
<rect x="456.69" y="240.89" width="3.61" height="3.61" fill="#4e3490"/>
<rect x="451.39" y="242.59" width="3.61" height="3.61" fill="#4e3490"/>
<line x1="455.5" y1="238.5" x2="455.5" y2="240.5" stroke="#1e1e1e" stroke-width="1"/>
<line x1="451.8" y1="238.5" x2="459.4" y2="238.5" stroke="#1e1e1e" stroke-width="1"/>
<line x1="451.8" y1="240.5" x2="459.4" y2="240.5" stroke="#1e1e1e" stroke-width="1"/>
<line x1="445.8" y1="239.5" x2="465.4" y2="239.5" stroke="#1e1e1e" stroke-width="1"/>
<text x="367.3" y="274.8" font-size="7" text-anchor="middle" fill="#222" stroke="#222" stroke-width="0.1" textLength="9" lengthAdjust="spacingAndGlyphs">WT</text>
<line x1="367.3" y1="278.3" x2="367.3" y2="280.1" stroke="#111" stroke-width="1.1"/>
<path d="M365.1 279.8L369.5 279.8L367.3 284.1Z" fill="#111"/>
<text x="367.3" y="291.6" font-size="7" text-anchor="middle" fill="#222" stroke="#222" stroke-width="0.1" textLength="9" lengthAdjust="spacingAndGlyphs">WT</text>
<text x="397.2" y="274.8" font-size="7" text-anchor="middle" fill="#222" stroke="#222" stroke-width="0.1" textLength="9" lengthAdjust="spacingAndGlyphs">WT</text>
<line x1="397.2" y1="278.3" x2="397.2" y2="280.1" stroke="#111" stroke-width="1.1"/>
<path d="M395 279.8L399.4 279.8L397.2 284.1Z" fill="#111"/>
<text x="397.2" y="291.6" font-size="7" text-anchor="middle" fill="#222" stroke="#222" stroke-width="0.1" textLength="14.5" lengthAdjust="spacingAndGlyphs">Nix-/-</text>
<text x="426.2" y="274.8" font-size="7" text-anchor="middle" fill="#222" stroke="#222" stroke-width="0.1" textLength="14.5" lengthAdjust="spacingAndGlyphs">Nix-/-</text>
<line x1="426.2" y1="278.3" x2="426.2" y2="280.1" stroke="#111" stroke-width="1.1"/>
<path d="M424 279.8L428.4 279.8L426.2 284.1Z" fill="#111"/>
<text x="426.2" y="291.6" font-size="7" text-anchor="middle" fill="#222" stroke="#222" stroke-width="0.1" textLength="9" lengthAdjust="spacingAndGlyphs">WT</text>
<text x="455.5" y="274.8" font-size="7" text-anchor="middle" fill="#222" stroke="#222" stroke-width="0.1" textLength="14.5" lengthAdjust="spacingAndGlyphs">Nix-/-</text>
<line x1="455.5" y1="278.3" x2="455.5" y2="280.1" stroke="#111" stroke-width="1.1"/>
<path d="M453.3 279.8L457.7 279.8L455.5 284.1Z" fill="#111"/>
<text x="455.5" y="291.6" font-size="7" text-anchor="middle" fill="#222" stroke="#222" stroke-width="0.1" textLength="14.5" lengthAdjust="spacingAndGlyphs">Nix-/-</text>
<text x="7.5" y="320.2" font-size="12" text-anchor="start" fill="#1a1a1a" stroke="#1a1a1a" stroke-width="0.1" textLength="8.2" lengthAdjust="spacingAndGlyphs">G</text>
<line x1="37.5" y1="336.4" x2="37.5" y2="424.1" stroke="#2a2a2a" stroke-width="1.3"/>
<line x1="34.3" y1="338.5" x2="37.5" y2="338.5" stroke="#2a2a2a" stroke-width="1.1"/>
<text x="31.7" y="341.2" font-size="6.8" text-anchor="end" fill="#444" stroke="#444" stroke-width="0.1" textLength="9.76" lengthAdjust="spacingAndGlyphs">150</text>
<line x1="34.3" y1="366.5" x2="37.5" y2="366.5" stroke="#2a2a2a" stroke-width="1.1"/>
<text x="31.7" y="369.57" font-size="6.8" text-anchor="end" fill="#444" stroke="#444" stroke-width="0.1" textLength="9.76" lengthAdjust="spacingAndGlyphs">100</text>
<line x1="34.3" y1="395.5" x2="37.5" y2="395.5" stroke="#2a2a2a" stroke-width="1.1"/>
<text x="31.7" y="397.93" font-size="6.8" text-anchor="end" fill="#444" stroke="#444" stroke-width="0.1" textLength="6.5" lengthAdjust="spacingAndGlyphs">50</text>
<line x1="34.3" y1="423.5" x2="37.5" y2="423.5" stroke="#2a2a2a" stroke-width="1.1"/>
<text x="31.7" y="426.3" font-size="6.8" text-anchor="end" fill="#444" stroke="#444" stroke-width="0.1" textLength="3.25" lengthAdjust="spacingAndGlyphs">0</text>
<line x1="36.8" y1="423.5" x2="152.5" y2="423.5" stroke="#2a2a2a" stroke-width="1.3"/>
<line x1="56.5" y1="423.5" x2="56.5" y2="425.7" stroke="#2a2a2a" stroke-width="1.1"/>
<line x1="85.5" y1="423.5" x2="85.5" y2="425.7" stroke="#2a2a2a" stroke-width="1.1"/>
<line x1="114.5" y1="423.5" x2="114.5" y2="425.7" stroke="#2a2a2a" stroke-width="1.1"/>
<line x1="143.5" y1="423.5" x2="143.5" y2="425.7" stroke="#2a2a2a" stroke-width="1.1"/>
<text transform="translate(14.3 380.6) rotate(-90)" x="0" y="0" font-size="8.8" text-anchor="middle" fill="#222" textLength="29.2" lengthAdjust="spacingAndGlyphs">OCR (%)</text>
<path d="M56.5 323L56.5 321.5L144.5 321.5L144.5 323" fill="none" stroke="#3a3a3a" stroke-width="0.9"/>
<path d="M99.3 318.15L99.3 320.05M98.47 318.62L100.13 319.57M98.47 319.57L100.13 318.62" stroke="#3a3a3a" stroke-width="0.65" fill="none"/>
<path d="M101.7 318.15L101.7 320.05M100.87 318.62L102.53 319.57M100.87 319.57L102.53 318.62" stroke="#3a3a3a" stroke-width="0.65" fill="none"/>
<path d="M86.5 329L86.5 327.5L144.5 327.5L144.5 329" fill="none" stroke="#3a3a3a" stroke-width="0.9"/>
<path d="M115.25 324.15L115.25 326.05M114.42 324.62L116.08 325.57M114.42 325.57L116.08 324.62" stroke="#3a3a3a" stroke-width="0.65" fill="none"/>
<path d="M86.5 340L86.5 338.5L115.5 338.5L115.5 340" fill="none" stroke="#3a3a3a" stroke-width="0.9"/>
<path d="M100.7 334.65L100.7 336.55M99.87 335.12L101.53 336.07M99.87 336.07L101.53 335.12" stroke="#3a3a3a" stroke-width="0.65" fill="none"/>
<circle cx="52.8" cy="367.3" r="2" fill="#c94f2b"/>
<circle cx="55.4" cy="367.3" r="2" fill="#c94f2b"/>
<circle cx="58" cy="367.3" r="2" fill="#c94f2b"/>
<circle cx="60.6" cy="367.3" r="2" fill="#c94f2b"/>
<line x1="46.1" y1="367.5" x2="66.7" y2="367.5" stroke="#1e1e1e" stroke-width="1"/>
<path d="M85.5 359.12L87.69 361.3L85.5 363.49L83.31 361.3Z" fill="#c2629f"/>
<path d="M81.1 367.81L83.28 370L81.1 372.19L78.91 370Z" fill="#c2629f"/>
<path d="M90.1 367.21L92.28 369.4L90.1 371.58L87.91 369.4Z" fill="#c2629f"/>
<path d="M85.7 370.81L87.89 373L85.7 375.19L83.52 373Z" fill="#c2629f"/>
<path d="M88.5 372.81L90.69 375L88.5 377.19L86.31 375Z" fill="#c2629f"/>
<path d="M83.5 376.62L85.69 378.8L83.5 380.99L81.31 378.8Z" fill="#c2629f"/>
<line x1="85.5" y1="369.5" x2="85.5" y2="374.5" stroke="#1e1e1e" stroke-width="1"/>
<line x1="81.9" y1="369.5" x2="89.5" y2="369.5" stroke="#1e1e1e" stroke-width="1"/>
<line x1="81.9" y1="374.5" x2="89.5" y2="374.5" stroke="#1e1e1e" stroke-width="1"/>
<line x1="75.6" y1="371.5" x2="95.8" y2="371.5" stroke="#1e1e1e" stroke-width="1"/>
<path d="M119.9 389.63L121.99 393.39L117.81 393.39Z" fill="#43aebf"/>
<path d="M107.2 393.63L109.29 397.39L105.11 397.39Z" fill="#43aebf"/>
<path d="M115.3 395.03L117.39 398.79L113.21 398.79Z" fill="#43aebf"/>
<path d="M119.9 396.63L121.99 400.39L117.81 400.39Z" fill="#43aebf"/>
<path d="M110.2 396.63L112.29 400.39L108.11 400.39Z" fill="#43aebf"/>
<path d="M114.7 400.73L116.79 404.49L112.61 404.49Z" fill="#43aebf"/>
<line x1="115.5" y1="395.5" x2="115.5" y2="398.5" stroke="#1e1e1e" stroke-width="1"/>
<line x1="111.2" y1="395.5" x2="118.8" y2="395.5" stroke="#1e1e1e" stroke-width="1"/>
<line x1="111.2" y1="398.5" x2="118.8" y2="398.5" stroke="#1e1e1e" stroke-width="1"/>
<line x1="105.2" y1="396.5" x2="124.8" y2="396.5" stroke="#1e1e1e" stroke-width="1"/>
<rect x="142.19" y="382.59" width="3.61" height="3.61" fill="#4e3490"/>
<rect x="142.19" y="389.69" width="3.61" height="3.61" fill="#4e3490"/>
<rect x="137.59" y="393.09" width="3.61" height="3.61" fill="#4e3490"/>
<rect x="147.69" y="391.69" width="3.61" height="3.61" fill="#4e3490"/>
<rect x="142.19" y="396.09" width="3.61" height="3.61" fill="#4e3490"/>
<rect x="142.19" y="405.8" width="3.61" height="3.61" fill="#4e3490"/>
<line x1="144.5" y1="391.5" x2="144.5" y2="397.5" stroke="#5a64a0" stroke-width="1"/>
<line x1="140.4" y1="391.5" x2="148" y2="391.5" stroke="#5a64a0" stroke-width="1"/>
<line x1="140.4" y1="397.5" x2="148" y2="397.5" stroke="#5a64a0" stroke-width="1"/>
<line x1="134.3" y1="394.5" x2="154.1" y2="394.5" stroke="#5a64a0" stroke-width="1"/>
<text x="56.6" y="434.8" font-size="7" text-anchor="middle" fill="#222" stroke="#222" stroke-width="0.1" textLength="9" lengthAdjust="spacingAndGlyphs">WT</text>
<line x1="56.6" y1="438.3" x2="56.6" y2="440.5" stroke="#111" stroke-width="1.1"/>
<path d="M54.4 440.2L58.8 440.2L56.6 444.5Z" fill="#111"/>
<text x="56.6" y="451.6" font-size="7" text-anchor="middle" fill="#222" stroke="#222" stroke-width="0.1" textLength="9" lengthAdjust="spacingAndGlyphs">WT</text>
<text x="85.5" y="434.8" font-size="7" text-anchor="middle" fill="#222" stroke="#222" stroke-width="0.1" textLength="9" lengthAdjust="spacingAndGlyphs">WT</text>
<line x1="85.5" y1="438.3" x2="85.5" y2="440.5" stroke="#111" stroke-width="1.1"/>
<path d="M83.3 440.2L87.7 440.2L85.5 444.5Z" fill="#111"/>
<text x="85.5" y="451.6" font-size="7" text-anchor="middle" fill="#222" stroke="#222" stroke-width="0.1" textLength="14.5" lengthAdjust="spacingAndGlyphs">Nix-/-</text>
<text x="114.6" y="434.8" font-size="7" text-anchor="middle" fill="#222" stroke="#222" stroke-width="0.1" textLength="14.5" lengthAdjust="spacingAndGlyphs">Nix-/-</text>
<line x1="114.6" y1="438.3" x2="114.6" y2="440.5" stroke="#111" stroke-width="1.1"/>
<path d="M112.4 440.2L116.8 440.2L114.6 444.5Z" fill="#111"/>
<text x="114.6" y="451.6" font-size="7" text-anchor="middle" fill="#222" stroke="#222" stroke-width="0.1" textLength="9" lengthAdjust="spacingAndGlyphs">WT</text>
<text x="143.9" y="434.8" font-size="7" text-anchor="middle" fill="#222" stroke="#222" stroke-width="0.1" textLength="14.5" lengthAdjust="spacingAndGlyphs">Nix-/-</text>
<line x1="143.9" y1="438.3" x2="143.9" y2="440.5" stroke="#111" stroke-width="1.1"/>
<path d="M141.7 440.2L146.1 440.2L143.9 444.5Z" fill="#111"/>
<text x="143.9" y="451.6" font-size="7" text-anchor="middle" fill="#222" stroke="#222" stroke-width="0.1" textLength="14.5" lengthAdjust="spacingAndGlyphs">Nix-/-</text>
<text x="164" y="320" font-size="12" text-anchor="start" fill="#1a1a1a" stroke="#1a1a1a" stroke-width="0.1" textLength="7.6" lengthAdjust="spacingAndGlyphs">H</text>
<line x1="193.5" y1="337.5" x2="193.5" y2="424.3" stroke="#2a2a2a" stroke-width="1.3"/>
<line x1="190.1" y1="340.5" x2="193.5" y2="340.5" stroke="#2a2a2a" stroke-width="1.1"/>
<text x="187.5" y="342.9" font-size="6.8" text-anchor="end" fill="#444" stroke="#444" stroke-width="0.1" textLength="9.76" lengthAdjust="spacingAndGlyphs">150</text>
<line x1="190.1" y1="368.5" x2="193.5" y2="368.5" stroke="#2a2a2a" stroke-width="1.1"/>
<text x="187.5" y="370.77" font-size="6.8" text-anchor="end" fill="#444" stroke="#444" stroke-width="0.1" textLength="9.76" lengthAdjust="spacingAndGlyphs">100</text>
<line x1="190.1" y1="395.5" x2="193.5" y2="395.5" stroke="#2a2a2a" stroke-width="1.1"/>
<text x="187.5" y="398.63" font-size="6.8" text-anchor="end" fill="#444" stroke="#444" stroke-width="0.1" textLength="6.5" lengthAdjust="spacingAndGlyphs">50</text>
<line x1="190.1" y1="423.5" x2="193.5" y2="423.5" stroke="#2a2a2a" stroke-width="1.1"/>
<text x="187.5" y="426.5" font-size="6.8" text-anchor="end" fill="#444" stroke="#444" stroke-width="0.1" textLength="3.25" lengthAdjust="spacingAndGlyphs">0</text>
<line x1="192.6" y1="423.5" x2="310.1" y2="423.5" stroke="#2a2a2a" stroke-width="1.3"/>
<line x1="212.5" y1="423.5" x2="212.5" y2="425.7" stroke="#2a2a2a" stroke-width="1.1"/>
<line x1="241.5" y1="423.5" x2="241.5" y2="425.7" stroke="#2a2a2a" stroke-width="1.1"/>
<line x1="270.5" y1="423.5" x2="270.5" y2="425.7" stroke="#2a2a2a" stroke-width="1.1"/>
<line x1="299.5" y1="423.5" x2="299.5" y2="425.7" stroke="#2a2a2a" stroke-width="1.1"/>
<text transform="translate(170.6 380.5) rotate(-90)" x="0" y="0" font-size="8.8" text-anchor="middle" fill="#222" textLength="26.9" lengthAdjust="spacingAndGlyphs">ATP (%)</text>
<path d="M209.5 324L209.5 322.5L298.5 322.5L298.5 324" fill="none" stroke="#3a3a3a" stroke-width="0.9"/>
<path d="M252.95 318.55L252.95 320.45M252.12 319.02L253.78 319.98M252.12 319.98L253.78 319.02" stroke="#3a3a3a" stroke-width="0.65" fill="none"/>
<path d="M255.35 318.55L255.35 320.45M254.52 319.02L256.18 319.98M254.52 319.98L256.18 319.02" stroke="#3a3a3a" stroke-width="0.65" fill="none"/>
<path d="M239.5 330L239.5 328.5L298.5 328.5L298.5 330" fill="none" stroke="#3a3a3a" stroke-width="0.9"/>
<path d="M268.95 324.55L268.95 326.45M268.12 325.02L269.78 325.98M268.12 325.98L269.78 325.02" stroke="#3a3a3a" stroke-width="0.65" fill="none"/>
<path d="M239.5 340L239.5 338.5L269.5 338.5L269.5 340" fill="none" stroke="#3a3a3a" stroke-width="0.9"/>
<path d="M254.35 334.65L254.35 336.55M253.52 335.12L255.18 336.07M253.52 336.07L255.18 335.12" stroke="#3a3a3a" stroke-width="0.65" fill="none"/>
<circle cx="209" cy="367.9" r="2" fill="#c94f2b"/>
<circle cx="211.6" cy="367.9" r="2" fill="#c94f2b"/>
<circle cx="214.2" cy="367.9" r="2" fill="#c94f2b"/>
<circle cx="216.8" cy="367.9" r="2" fill="#c94f2b"/>
<line x1="202.9" y1="367.5" x2="222.9" y2="367.5" stroke="#1e1e1e" stroke-width="1"/>
<path d="M234 366.62L236.19 368.8L234 370.99L231.81 368.8Z" fill="#c2629f"/>
<path d="M238 367.81L240.19 370L238 372.19L235.81 370Z" fill="#c2629f"/>
<path d="M241.7 367.81L243.88 370L241.7 372.19L239.51 370Z" fill="#c2629f"/>
<path d="M245.1 367.62L247.28 369.8L245.1 371.99L242.91 369.8Z" fill="#c2629f"/>
<path d="M249.1 366.21L251.28 368.4L249.1 370.58L246.91 368.4Z" fill="#c2629f"/>
<path d="M241.7 375.21L243.88 377.4L241.7 379.58L239.51 377.4Z" fill="#c2629f"/>
<line x1="241.5" y1="370.5" x2="241.5" y2="372.5" stroke="#1e1e1e" stroke-width="1"/>
<line x1="237.8" y1="370.5" x2="245.4" y2="370.5" stroke="#1e1e1e" stroke-width="1"/>
<line x1="237.8" y1="372.5" x2="245.4" y2="372.5" stroke="#1e1e1e" stroke-width="1"/>
<line x1="231.6" y1="371.5" x2="251.6" y2="371.5" stroke="#1e1e1e" stroke-width="1"/>
<path d="M270.2 384.63L272.29 388.39L268.11 388.39Z" fill="#43aebf"/>
<path d="M266.2 391.63L268.29 395.39L264.11 395.39Z" fill="#43aebf"/>
<path d="M274.3 391.63L276.39 395.39L272.21 395.39Z" fill="#43aebf"/>
<path d="M270.2 396.63L272.29 400.39L268.11 400.39Z" fill="#43aebf"/>
<path d="M270.2 405.13L272.29 408.89L268.11 408.89Z" fill="#43aebf"/>
<line x1="270.5" y1="392.5" x2="270.5" y2="398.5" stroke="#1e1e1e" stroke-width="1"/>
<line x1="266.6" y1="392.5" x2="274.2" y2="392.5" stroke="#1e1e1e" stroke-width="1"/>
<line x1="266.6" y1="398.5" x2="274.2" y2="398.5" stroke="#1e1e1e" stroke-width="1"/>
<line x1="260.2" y1="395.5" x2="280.6" y2="395.5" stroke="#1e1e1e" stroke-width="1"/>
<rect x="304.69" y="389.69" width="3.61" height="3.61" fill="#4e3490"/>
<rect x="289.59" y="393.69" width="3.61" height="3.61" fill="#4e3490"/>
<rect x="292.59" y="395.09" width="3.61" height="3.61" fill="#4e3490"/>
<rect x="297.59" y="394.3" width="3.61" height="3.61" fill="#4e3490"/>
<rect x="302.19" y="395.09" width="3.61" height="3.61" fill="#4e3490"/>
<rect x="297.59" y="399.69" width="3.61" height="3.61" fill="#4e3490"/>
<line x1="299.5" y1="395.5" x2="299.5" y2="397.5" stroke="#1e1e1e" stroke-width="1"/>
<line x1="295.6" y1="395.5" x2="303.2" y2="395.5" stroke="#1e1e1e" stroke-width="1"/>
<line x1="295.6" y1="397.5" x2="303.2" y2="397.5" stroke="#1e1e1e" stroke-width="1"/>
<line x1="289.4" y1="396.5" x2="309.4" y2="396.5" stroke="#1e1e1e" stroke-width="1"/>
<text x="212.4" y="434.8" font-size="7" text-anchor="middle" fill="#222" stroke="#222" stroke-width="0.1" textLength="9" lengthAdjust="spacingAndGlyphs">WT</text>
<line x1="212.4" y1="438.3" x2="212.4" y2="440.5" stroke="#111" stroke-width="1.1"/>
<path d="M210.2 440.2L214.6 440.2L212.4 444.5Z" fill="#111"/>
<text x="212.4" y="451.6" font-size="7" text-anchor="middle" fill="#222" stroke="#222" stroke-width="0.1" textLength="9" lengthAdjust="spacingAndGlyphs">WT</text>
<text x="241.3" y="434.8" font-size="7" text-anchor="middle" fill="#222" stroke="#222" stroke-width="0.1" textLength="9" lengthAdjust="spacingAndGlyphs">WT</text>
<line x1="241.3" y1="438.3" x2="241.3" y2="440.5" stroke="#111" stroke-width="1.1"/>
<path d="M239.1 440.2L243.5 440.2L241.3 444.5Z" fill="#111"/>
<text x="241.3" y="451.6" font-size="7" text-anchor="middle" fill="#222" stroke="#222" stroke-width="0.1" textLength="14.5" lengthAdjust="spacingAndGlyphs">Nix-/-</text>
<text x="270.1" y="434.8" font-size="7" text-anchor="middle" fill="#222" stroke="#222" stroke-width="0.1" textLength="14.5" lengthAdjust="spacingAndGlyphs">Nix-/-</text>
<line x1="270.1" y1="438.3" x2="270.1" y2="440.5" stroke="#111" stroke-width="1.1"/>
<path d="M267.9 440.2L272.3 440.2L270.1 444.5Z" fill="#111"/>
<text x="270.1" y="451.6" font-size="7" text-anchor="middle" fill="#222" stroke="#222" stroke-width="0.1" textLength="9" lengthAdjust="spacingAndGlyphs">WT</text>
<text x="299.2" y="434.8" font-size="7" text-anchor="middle" fill="#222" stroke="#222" stroke-width="0.1" textLength="14.5" lengthAdjust="spacingAndGlyphs">Nix-/-</text>
<line x1="299.2" y1="438.3" x2="299.2" y2="440.5" stroke="#111" stroke-width="1.1"/>
<path d="M297 440.2L301.4 440.2L299.2 444.5Z" fill="#111"/>
<text x="299.2" y="451.6" font-size="7" text-anchor="middle" fill="#222" stroke="#222" stroke-width="0.1" textLength="14.5" lengthAdjust="spacingAndGlyphs">Nix-/-</text>
<text x="318.3" y="320" font-size="11.5" text-anchor="start" fill="#1a1a1a" stroke="#1a1a1a" stroke-width="0.1">I</text>
<text x="356.4" y="316.2" font-size="7.4" text-anchor="middle" fill="#222" stroke="#222" stroke-width="0.1" textLength="9.6" lengthAdjust="spacingAndGlyphs">WT</text>
<line x1="356.4" y1="318.4" x2="356.4" y2="321.3" stroke="#111" stroke-width="1.1"/>
<path d="M354.1 321L358.7 321L356.4 325.4Z" fill="#111"/>
<text x="356.4" y="332.3" font-size="7.4" text-anchor="middle" fill="#222" stroke="#222" stroke-width="0.1" textLength="9.6" lengthAdjust="spacingAndGlyphs">WT</text>
<line x1="341.6" y1="335.4" x2="368.8" y2="335.4" stroke="#333" stroke-width="0.9"/>
<text x="385.3" y="316.2" font-size="7.4" text-anchor="middle" fill="#222" stroke="#222" stroke-width="0.1" textLength="9.6" lengthAdjust="spacingAndGlyphs">WT</text>
<line x1="385.3" y1="318.4" x2="385.3" y2="321.3" stroke="#111" stroke-width="1.1"/>
<path d="M383 321L387.6 321L385.3 325.4Z" fill="#111"/>
<text x="385.3" y="332.3" font-size="7.4" text-anchor="middle" fill="#222" stroke="#222" stroke-width="0.1" textLength="15" lengthAdjust="spacingAndGlyphs">Nix-/-</text>
<line x1="372.3" y1="335.4" x2="398.2" y2="335.4" stroke="#333" stroke-width="0.9"/>
<text x="413.5" y="316.2" font-size="7.4" text-anchor="middle" fill="#222" stroke="#222" stroke-width="0.1" textLength="15" lengthAdjust="spacingAndGlyphs">Nix-/-</text>
<line x1="413.5" y1="318.4" x2="413.5" y2="321.3" stroke="#111" stroke-width="1.1"/>
<path d="M411.2 321L415.8 321L413.5 325.4Z" fill="#111"/>
<text x="413.5" y="332.3" font-size="7.4" text-anchor="middle" fill="#222" stroke="#222" stroke-width="0.1" textLength="9.6" lengthAdjust="spacingAndGlyphs">WT</text>
<line x1="400.8" y1="335.4" x2="424.6" y2="335.4" stroke="#333" stroke-width="0.9"/>
<text x="443" y="316.2" font-size="7.4" text-anchor="middle" fill="#222" stroke="#222" stroke-width="0.1" textLength="15" lengthAdjust="spacingAndGlyphs">Nix-/-</text>
<line x1="443" y1="318.4" x2="443" y2="321.3" stroke="#111" stroke-width="1.1"/>
<path d="M440.7 321L445.3 321L443 325.4Z" fill="#111"/>
<text x="443" y="332.3" font-size="7.4" text-anchor="middle" fill="#222" stroke="#222" stroke-width="0.1" textLength="15" lengthAdjust="spacingAndGlyphs">Nix-/-</text>
<line x1="427.2" y1="335.4" x2="457.7" y2="335.4" stroke="#333" stroke-width="0.9"/>
<text x="321.8" y="344.4" font-size="6.6" text-anchor="start" fill="#222" stroke="#222" stroke-width="0.1" textLength="13.5" lengthAdjust="spacingAndGlyphs">FCCP</text>
<line x1="349.03" y1="341.9" x2="350.77" y2="341.9" stroke="#222" stroke-width="0.85"/>
<line x1="361.73" y1="341.9" x2="363.47" y2="341.9" stroke="#222" stroke-width="0.85"/>
<line x1="361.15" y1="341.9" x2="364.05" y2="341.9" stroke="#222" stroke-width="0.85"/>
<line x1="362.6" y1="340.45" x2="362.6" y2="343.35" stroke="#222" stroke-width="0.85"/>
<line x1="377.13" y1="341.9" x2="378.87" y2="341.9" stroke="#222" stroke-width="0.85"/>
<line x1="391.73" y1="341.9" x2="393.47" y2="341.9" stroke="#222" stroke-width="0.85"/>
<line x1="391.15" y1="341.9" x2="394.05" y2="341.9" stroke="#222" stroke-width="0.85"/>
<line x1="392.6" y1="340.45" x2="392.6" y2="343.35" stroke="#222" stroke-width="0.85"/>
<line x1="404.63" y1="341.9" x2="406.37" y2="341.9" stroke="#222" stroke-width="0.85"/>
<line x1="419.33" y1="341.9" x2="421.07" y2="341.9" stroke="#222" stroke-width="0.85"/>
<line x1="418.75" y1="341.9" x2="421.65" y2="341.9" stroke="#222" stroke-width="0.85"/>
<line x1="420.2" y1="340.45" x2="420.2" y2="343.35" stroke="#222" stroke-width="0.85"/>
<line x1="433.53" y1="341.9" x2="435.27" y2="341.9" stroke="#222" stroke-width="0.85"/>
<line x1="448.23" y1="341.9" x2="449.97" y2="341.9" stroke="#222" stroke-width="0.85"/>
<line x1="447.65" y1="341.9" x2="450.55" y2="341.9" stroke="#222" stroke-width="0.85"/>
<line x1="449.1" y1="340.45" x2="449.1" y2="343.35" stroke="#222" stroke-width="0.85"/>
<rect x="338.5" y="347.1" width="120.8" height="14.7" fill="#dedddf"/>
<rect x="338.5" y="364" width="120.8" height="14.2" fill="#dedddf"/>
<rect x="338.5" y="380.6" width="120.8" height="10.9" fill="#dedddf"/>
<rect x="338.5" y="393.6" width="120.8" height="11.6" fill="#dedddf"/>
<rect x="338.5" y="408.6" width="120.8" height="15.8" fill="#dedddf"/>
<rect x="338.5" y="426.2" width="120.8" height="12.6" fill="#dedddf"/>
<rect x="338.5" y="440.6" width="120.8" height="13.2" fill="#dedddf"/>
<text x="462.4" y="356" font-size="6.6" text-anchor="start" fill="#2a2a2a" stroke="#2a2a2a" stroke-width="0.1" textLength="18.8" lengthAdjust="spacingAndGlyphs">Tom20</text>
<text x="462.4" y="375" font-size="6.6" text-anchor="start" fill="#2a2a2a" stroke="#2a2a2a" stroke-width="0.1" textLength="16.5" lengthAdjust="spacingAndGlyphs">Tim23</text>
<text x="462.4" y="389.1" font-size="6.6" text-anchor="start" fill="#2a2a2a" stroke="#2a2a2a" stroke-width="0.1" textLength="14.5" lengthAdjust="spacingAndGlyphs">COXII</text>
<text x="462.4" y="403.2" font-size="6.6" text-anchor="start" fill="#2a2a2a" stroke="#2a2a2a" stroke-width="0.1" textLength="9.6" lengthAdjust="spacingAndGlyphs">P62</text>
<text x="462.4" y="418.9" font-size="6.6" text-anchor="start" fill="#2a2a2a" stroke="#2a2a2a" stroke-width="0.1" textLength="9.6" lengthAdjust="spacingAndGlyphs">LC3</text>
<text x="462.4" y="435" font-size="6.6" text-anchor="start" fill="#2a2a2a" stroke="#2a2a2a" stroke-width="0.1" textLength="8.6" lengthAdjust="spacingAndGlyphs">Nix</text>
<text x="462.4" y="449.8" font-size="6.6" text-anchor="start" fill="#2a2a2a" stroke="#2a2a2a" stroke-width="0.1" textLength="14" lengthAdjust="spacingAndGlyphs">Actin</text>
<rect x="340.75" y="353.8" width="14.5" height="3.2" rx="3.84" ry="1.6" fill="rgb(14,14,14)" filter="url(#bl)"/>
<rect x="356.75" y="354.3" width="11.5" height="2.2" rx="2.64" ry="1.1" fill="rgb(45,45,45)" filter="url(#bl)"/>
<rect x="370.45" y="353.9" width="13.5" height="3" rx="3.6" ry="1.5" fill="rgb(14,14,14)" filter="url(#bl)"/>
<rect x="386.5" y="354.4" width="10" height="2" rx="2.4" ry="1" fill="rgb(55,55,55)" filter="url(#bl)"/>
<rect x="397.4" y="352.9" width="16" height="5" rx="6" ry="2.5" fill="rgb(14,14,14)" filter="url(#bl)"/>
<rect x="412.25" y="353" width="15.5" height="4.8" rx="5.76" ry="2.4" fill="rgb(14,14,14)" filter="url(#bl)"/>
<rect x="426.5" y="352.9" width="16" height="5" rx="6" ry="2.5" fill="rgb(14,14,14)" filter="url(#bl)"/>
<rect x="441.2" y="352.9" width="16" height="5" rx="6" ry="2.5" fill="rgb(14,14,14)" filter="url(#bl)"/>
<rect x="341.75" y="371.8" width="12.5" height="2.2" rx="2.64" ry="1.1" fill="rgb(34,34,34)" filter="url(#bl)"/>
<rect x="357.75" y="371.9" width="9.5" height="2" rx="2.4" ry="1" fill="rgb(45,45,45)" filter="url(#bl)"/>
<rect x="370.2" y="371.5" width="14" height="2.8" rx="3.36" ry="1.4" fill="rgb(14,14,14)" filter="url(#bl)"/>
<rect x="385.75" y="371.7" width="11.5" height="2.4" rx="2.88" ry="1.2" fill="rgb(24,24,24)" filter="url(#bl)"/>
<rect x="397.4" y="370.8" width="16" height="4.2" rx="5.04" ry="2.1" fill="rgb(14,14,14)" filter="url(#bl)"/>
<rect x="412.25" y="370.9" width="15.5" height="4" rx="4.8" ry="2" fill="rgb(14,14,14)" filter="url(#bl)"/>
<rect x="426.5" y="370.8" width="16" height="4.2" rx="5.04" ry="2.1" fill="rgb(14,14,14)" filter="url(#bl)"/>
<rect x="441.2" y="370.75" width="16" height="4.3" rx="5.16" ry="2.15" fill="rgb(14,14,14)" filter="url(#bl)"/>
<rect x="340" y="384.9" width="16" height="3.8" rx="4.56" ry="1.9" fill="rgb(14,14,14)" filter="url(#bl)"/>
<rect x="357.25" y="385.6" width="10.5" height="2.4" rx="2.88" ry="1.2" fill="rgb(72,72,72)" filter="url(#bl)"/>
<rect x="370.45" y="385.3" width="13.5" height="3" rx="3.6" ry="1.5" fill="rgb(14,14,14)" filter="url(#bl)"/>
<rect x="387.25" y="385.9" width="8.5" height="1.8" rx="2.16" ry="0.9" fill="rgb(107,107,107)" filter="url(#bl)"/>
<rect x="397.4" y="384.5" width="16" height="4.6" rx="5.52" ry="2.3" fill="rgb(14,14,14)" filter="url(#bl)"/>
<rect x="412.75" y="385.3" width="14.5" height="3" rx="3.6" ry="1.5" fill="rgb(14,14,14)" filter="url(#bl)"/>
<rect x="427.25" y="385.2" width="14.5" height="3.2" rx="3.84" ry="1.6" fill="rgb(14,14,14)" filter="url(#bl)"/>
<rect x="442.45" y="385.4" width="13.5" height="2.8" rx="3.36" ry="1.4" fill="rgb(14,14,14)" filter="url(#bl)"/>
<rect x="340.75" y="398.9" width="14.5" height="3.4" rx="4.08" ry="1.7" fill="rgb(14,14,14)" filter="url(#bl)"/>
<rect x="358" y="399.8" width="9" height="1.6" rx="1.92" ry="0.8" fill="rgb(118,118,118)" filter="url(#bl)"/>
<rect x="370.95" y="399.3" width="12.5" height="2.6" rx="3.12" ry="1.3" fill="rgb(24,24,24)" filter="url(#bl)"/>
<rect x="386.25" y="399.5" width="10.5" height="2.2" rx="2.64" ry="1.1" fill="rgb(45,45,45)" filter="url(#bl)"/>
<rect x="397.9" y="399" width="15" height="3.2" rx="3.84" ry="1.6" fill="rgb(14,14,14)" filter="url(#bl)"/>
<rect x="412.75" y="399" width="14.5" height="3.2" rx="3.84" ry="1.6" fill="rgb(14,14,14)" filter="url(#bl)"/>
<rect x="427.75" y="399.2" width="13.5" height="2.8" rx="3.36" ry="1.4" fill="rgb(24,24,24)" filter="url(#bl)"/>
<rect x="442.2" y="399.2" width="14" height="2.8" rx="3.36" ry="1.4" fill="rgb(14,14,14)" filter="url(#bl)"/>
<rect x="341.25" y="410.95" width="13.5" height="1.9" rx="2.28" ry="0.95" fill="rgb(30,30,30)" filter="url(#bl)"/>
<rect x="355.75" y="410.95" width="13.5" height="1.9" rx="2.28" ry="0.95" fill="rgb(30,30,30)" filter="url(#bl)"/>
<rect x="370.45" y="410.95" width="13.5" height="1.9" rx="2.28" ry="0.95" fill="rgb(30,30,30)" filter="url(#bl)"/>
<rect x="384.75" y="410.95" width="13.5" height="1.9" rx="2.28" ry="0.95" fill="rgb(30,30,30)" filter="url(#bl)"/>
<rect x="398.65" y="410.95" width="13.5" height="1.9" rx="2.28" ry="0.95" fill="rgb(30,30,30)" filter="url(#bl)"/>
<rect x="413.25" y="410.95" width="13.5" height="1.9" rx="2.28" ry="0.95" fill="rgb(30,30,30)" filter="url(#bl)"/>
<rect x="427.75" y="410.95" width="13.5" height="1.9" rx="2.28" ry="0.95" fill="rgb(30,30,30)" filter="url(#bl)"/>
<rect x="442.45" y="410.95" width="13.5" height="1.9" rx="2.28" ry="0.95" fill="rgb(30,30,30)" filter="url(#bl)"/>
<rect x="356" y="419.6" width="13" height="2.4" rx="2.88" ry="1.2" fill="rgb(14,14,14)" filter="url(#bl)"/>
<rect x="385.25" y="419.6" width="12.5" height="2.4" rx="2.88" ry="1.2" fill="rgb(14,14,14)" filter="url(#bl)"/>
<rect x="414.5" y="419.9" width="11" height="1.8" rx="2.16" ry="0.9" fill="rgb(76,76,76)" filter="url(#bl)"/>
<rect x="446.7" y="420.2" width="5" height="1.2" rx="1.44" ry="0.6" fill="rgb(149,149,149)" filter="url(#bl)"/>
<rect x="341.75" y="431.9" width="12.5" height="1.8" rx="2.16" ry="0.9" fill="rgb(45,45,45)" filter="url(#bl)"/>
<rect x="357.75" y="432" width="9.5" height="1.6" rx="1.92" ry="0.8" fill="rgb(97,97,97)" filter="url(#bl)"/>
<rect x="370.7" y="431.7" width="13" height="2.2" rx="2.64" ry="1.1" fill="rgb(24,24,24)" filter="url(#bl)"/>
<rect x="387.5" y="432.15" width="8" height="1.3" rx="1.56" ry="0.65" fill="rgb(138,138,138)" filter="url(#bl)"/>
<rect x="339.75" y="443.9" width="16.5" height="7" rx="8.25" ry="3.5" fill="rgb(14,14,14)" filter="url(#bl)"/>
<rect x="354.5" y="444.1" width="16" height="6.6" rx="7.92" ry="3.3" fill="rgb(14,14,14)" filter="url(#bl)"/>
<rect x="369.2" y="444.1" width="16" height="6.6" rx="7.92" ry="3.3" fill="rgb(14,14,14)" filter="url(#bl)"/>
<rect x="383.25" y="443.7" width="16.5" height="7.4" rx="8.25" ry="3.7" fill="rgb(14,14,14)" filter="url(#bl)"/>
<rect x="397.9" y="444.8" width="15" height="5.2" rx="6.24" ry="2.6" fill="rgb(14,14,14)" filter="url(#bl)"/>
<rect x="412" y="444.2" width="16" height="6.4" rx="7.68" ry="3.2" fill="rgb(14,14,14)" filter="url(#bl)"/>
<rect x="426.5" y="444" width="16" height="6.8" rx="8" ry="3.4" fill="rgb(14,14,14)" filter="url(#bl)"/>
<rect x="441.2" y="444" width="16" height="6.8" rx="8" ry="3.4" fill="rgb(14,14,14)" filter="url(#bl)"/>
<text x="11.3" y="472.3" font-size="12" text-anchor="start" fill="#1a1a1a" stroke="#1a1a1a" stroke-width="0.1">J</text>
<text transform="translate(16.3 513.2) rotate(-90)" x="0" y="0" font-size="8.5" text-anchor="middle" fill="#222" textLength="46" lengthAdjust="spacingAndGlyphs">Relative level</text>
<line x1="36.5" y1="479.6" x2="36.5" y2="548.1" stroke="#2a2a2a" stroke-width="1.3"/>
<line x1="33.7" y1="482.5" x2="36.5" y2="482.5" stroke="#2a2a2a" stroke-width="1.1"/>
<text x="31.1" y="484.7" font-size="6.8" text-anchor="end" fill="#444" stroke="#444" stroke-width="0.1" textLength="8.13" lengthAdjust="spacingAndGlyphs">2.0</text>
<line x1="33.7" y1="498.5" x2="36.5" y2="498.5" stroke="#2a2a2a" stroke-width="1.1"/>
<line x1="33.7" y1="514.5" x2="36.5" y2="514.5" stroke="#2a2a2a" stroke-width="1.1"/>
<text x="31.1" y="517.3" font-size="6.8" text-anchor="end" fill="#444" stroke="#444" stroke-width="0.1" textLength="8.13" lengthAdjust="spacingAndGlyphs">1.0</text>
<line x1="33.7" y1="531.5" x2="36.5" y2="531.5" stroke="#2a2a2a" stroke-width="1.1"/>
<line x1="33.7" y1="547.5" x2="36.5" y2="547.5" stroke="#2a2a2a" stroke-width="1.1"/>
<text x="31.1" y="550.3" font-size="6.8" text-anchor="end" fill="#444" stroke="#444" stroke-width="0.1" textLength="8.13" lengthAdjust="spacingAndGlyphs">0.0</text>
<line x1="36.2" y1="547.5" x2="135.7" y2="547.5" stroke="#2a2a2a" stroke-width="1.3"/>
<line x1="44.5" y1="547.5" x2="44.5" y2="549.7" stroke="#2a2a2a" stroke-width="1.1"/>
<line x1="56.5" y1="547.5" x2="56.5" y2="549.7" stroke="#2a2a2a" stroke-width="1.1"/>
<line x1="68.5" y1="547.5" x2="68.5" y2="549.7" stroke="#2a2a2a" stroke-width="1.1"/>
<line x1="80.5" y1="547.5" x2="80.5" y2="549.7" stroke="#2a2a2a" stroke-width="1.1"/>
<line x1="92.5" y1="547.5" x2="92.5" y2="549.7" stroke="#2a2a2a" stroke-width="1.1"/>
<line x1="103.5" y1="547.5" x2="103.5" y2="549.7" stroke="#2a2a2a" stroke-width="1.1"/>
<line x1="116.5" y1="547.5" x2="116.5" y2="549.7" stroke="#2a2a2a" stroke-width="1.1"/>
<line x1="127.5" y1="547.5" x2="127.5" y2="549.7" stroke="#2a2a2a" stroke-width="1.1"/>
<text x="86.3" y="473.6" font-size="8.3" text-anchor="middle" fill="#222" stroke="#222" stroke-width="0.1" textLength="24.2" lengthAdjust="spacingAndGlyphs">Tom20</text>
<text x="23.5" y="559.4" font-size="7" text-anchor="start" fill="#222" stroke="#222" stroke-width="0.1" textLength="13.8" lengthAdjust="spacingAndGlyphs">FCCP</text>
<line x1="43.96" y1="557.6" x2="45.64" y2="557.6" stroke="#222" stroke-width="0.85"/>
<line x1="55.56" y1="557.6" x2="57.24" y2="557.6" stroke="#222" stroke-width="0.85"/>
<line x1="55" y1="557.6" x2="57.8" y2="557.6" stroke="#222" stroke-width="0.85"/>
<line x1="56.4" y1="556.2" x2="56.4" y2="559" stroke="#222" stroke-width="0.85"/>
<line x1="67.86" y1="557.6" x2="69.54" y2="557.6" stroke="#222" stroke-width="0.85"/>
<line x1="79.61" y1="557.6" x2="81.29" y2="557.6" stroke="#222" stroke-width="0.85"/>
<line x1="79.05" y1="557.6" x2="81.85" y2="557.6" stroke="#222" stroke-width="0.85"/>
<line x1="80.45" y1="556.2" x2="80.45" y2="559" stroke="#222" stroke-width="0.85"/>
<line x1="91.61" y1="557.6" x2="93.29" y2="557.6" stroke="#222" stroke-width="0.85"/>
<line x1="103.26" y1="557.6" x2="104.94" y2="557.6" stroke="#222" stroke-width="0.85"/>
<line x1="102.7" y1="557.6" x2="105.5" y2="557.6" stroke="#222" stroke-width="0.85"/>
<line x1="104.1" y1="556.2" x2="104.1" y2="559" stroke="#222" stroke-width="0.85"/>
<line x1="115.56" y1="557.6" x2="117.24" y2="557.6" stroke="#222" stroke-width="0.85"/>
<line x1="127.36" y1="557.6" x2="129.04" y2="557.6" stroke="#222" stroke-width="0.85"/>
<line x1="126.8" y1="557.6" x2="129.6" y2="557.6" stroke="#222" stroke-width="0.85"/>
<line x1="128.2" y1="556.2" x2="128.2" y2="559" stroke="#222" stroke-width="0.85"/>
<line x1="37.3" y1="562.3" x2="61.1" y2="562.3" stroke="#444" stroke-width="0.9"/>
<line x1="64.3" y1="562.3" x2="85.1" y2="562.3" stroke="#444" stroke-width="0.9"/>
<line x1="87.4" y1="562.3" x2="108.2" y2="562.3" stroke="#444" stroke-width="0.9"/>
<line x1="111.2" y1="562.3" x2="133.2" y2="562.3" stroke="#444" stroke-width="0.9"/>
<text x="49.3" y="571.3" font-size="7" text-anchor="middle" fill="#222" stroke="#222" stroke-width="0.1" textLength="8.8" lengthAdjust="spacingAndGlyphs">WT</text>
<line x1="49.3" y1="574.2" x2="49.3" y2="576.3" stroke="#111" stroke-width="1.1"/>
<path d="M47.2 576L51.4 576L49.3 580Z" fill="#111"/>
<text x="49.3" y="587.3" font-size="7" text-anchor="middle" fill="#222" stroke="#222" stroke-width="0.1" textLength="8.8" lengthAdjust="spacingAndGlyphs">WT</text>
<text x="74.3" y="571.3" font-size="7" text-anchor="middle" fill="#222" stroke="#222" stroke-width="0.1" textLength="8.8" lengthAdjust="spacingAndGlyphs">WT</text>
<line x1="74.3" y1="574.2" x2="74.3" y2="576.3" stroke="#111" stroke-width="1.1"/>
<path d="M72.2 576L76.4 576L74.3 580Z" fill="#111"/>
<text x="74.3" y="587.3" font-size="7" text-anchor="middle" fill="#222" stroke="#222" stroke-width="0.1" textLength="14" lengthAdjust="spacingAndGlyphs">Nix-/-</text>
<text x="97.8" y="571.3" font-size="7" text-anchor="middle" fill="#222" stroke="#222" stroke-width="0.1" textLength="14" lengthAdjust="spacingAndGlyphs">Nix-/-</text>
<line x1="97.8" y1="574.2" x2="97.8" y2="576.3" stroke="#111" stroke-width="1.1"/>
<path d="M95.7 576L99.9 576L97.8 580Z" fill="#111"/>
<text x="97.8" y="587.3" font-size="7" text-anchor="middle" fill="#222" stroke="#222" stroke-width="0.1" textLength="8.8" lengthAdjust="spacingAndGlyphs">WT</text>
<text x="121.6" y="571.3" font-size="7" text-anchor="middle" fill="#222" stroke="#222" stroke-width="0.1" textLength="14" lengthAdjust="spacingAndGlyphs">Nix-/-</text>
<line x1="121.6" y1="574.2" x2="121.6" y2="576.3" stroke="#111" stroke-width="1.1"/>
<path d="M119.5 576L123.7 576L121.6 580Z" fill="#111"/>
<text x="121.6" y="587.3" font-size="7" text-anchor="middle" fill="#222" stroke="#222" stroke-width="0.1" textLength="14" lengthAdjust="spacingAndGlyphs">Nix-/-</text>
<path d="M44.5 498L44.5 496.5L56.5 496.5L56.5 498" fill="none" stroke="#3a3a3a" stroke-width="0.9"/>
<path d="M49.1 492.55L49.1 494.45M48.27 493.02L49.93 493.98M48.27 493.98L49.93 493.02" stroke="#3a3a3a" stroke-width="0.65" fill="none"/>
<path d="M51.5 492.55L51.5 494.45M50.67 493.02L52.33 493.98M50.67 493.98L52.33 493.02" stroke="#3a3a3a" stroke-width="0.65" fill="none"/>
<path d="M68.5 499L68.5 497.5L80.5 497.5L80.5 499" fill="none" stroke="#3a3a3a" stroke-width="0.9"/>
<path d="M73.08 493.65L73.08 495.55M72.25 494.12L73.9 495.07M72.25 495.07L73.9 494.12" stroke="#3a3a3a" stroke-width="0.65" fill="none"/>
<path d="M75.48 493.65L75.48 495.55M74.65 494.12L76.3 495.07M74.65 495.07L76.3 494.12" stroke="#3a3a3a" stroke-width="0.65" fill="none"/>
<path d="M91.5 485L91.5 483.5L104.5 483.5L104.5 485" fill="none" stroke="#3a3a3a" stroke-width="0.9"/>
<path d="M97.97 480.35L97.97 482.25M97.15 480.82L98.8 481.77M97.15 481.77L98.8 480.82" stroke="#3a3a3a" stroke-width="0.65" fill="none"/>
<path d="M115.5 485L115.5 483.5L128.5 483.5L128.5 485" fill="none" stroke="#3a3a3a" stroke-width="0.9"/>
<path d="M122 480.35L122 482.25M121.17 480.82L122.83 481.77M121.17 481.77L122.83 480.82" stroke="#3a3a3a" stroke-width="0.65" fill="none"/>
<line x1="162.5" y1="479.6" x2="162.5" y2="548.1" stroke="#2a2a2a" stroke-width="1.3"/>
<line x1="159.4" y1="482.5" x2="162.5" y2="482.5" stroke="#2a2a2a" stroke-width="1.1"/>
<line x1="159.4" y1="498.5" x2="162.5" y2="498.5" stroke="#2a2a2a" stroke-width="1.1"/>
<line x1="159.4" y1="514.5" x2="162.5" y2="514.5" stroke="#2a2a2a" stroke-width="1.1"/>
<line x1="159.4" y1="531.5" x2="162.5" y2="531.5" stroke="#2a2a2a" stroke-width="1.1"/>
<line x1="159.4" y1="547.5" x2="162.5" y2="547.5" stroke="#2a2a2a" stroke-width="1.1"/>
<line x1="161.9" y1="547.5" x2="260.9" y2="547.5" stroke="#2a2a2a" stroke-width="1.3"/>
<line x1="170.5" y1="547.5" x2="170.5" y2="549.7" stroke="#2a2a2a" stroke-width="1.1"/>
<line x1="181.5" y1="547.5" x2="181.5" y2="549.7" stroke="#2a2a2a" stroke-width="1.1"/>
<line x1="194.5" y1="547.5" x2="194.5" y2="549.7" stroke="#2a2a2a" stroke-width="1.1"/>
<line x1="205.5" y1="547.5" x2="205.5" y2="549.7" stroke="#2a2a2a" stroke-width="1.1"/>
<line x1="217.5" y1="547.5" x2="217.5" y2="549.7" stroke="#2a2a2a" stroke-width="1.1"/>
<line x1="229.5" y1="547.5" x2="229.5" y2="549.7" stroke="#2a2a2a" stroke-width="1.1"/>
<line x1="241.5" y1="547.5" x2="241.5" y2="549.7" stroke="#2a2a2a" stroke-width="1.1"/>
<line x1="253.5" y1="547.5" x2="253.5" y2="549.7" stroke="#2a2a2a" stroke-width="1.1"/>
<text x="212.2" y="473.6" font-size="8.3" text-anchor="middle" fill="#222" stroke="#222" stroke-width="0.1" textLength="22.3" lengthAdjust="spacingAndGlyphs">Tim23</text>
<text x="148.3" y="559.4" font-size="7" text-anchor="start" fill="#222" stroke="#222" stroke-width="0.1" textLength="13.8" lengthAdjust="spacingAndGlyphs">FCCP</text>
<line x1="169.66" y1="557.6" x2="171.34" y2="557.6" stroke="#222" stroke-width="0.85"/>
<line x1="181.26" y1="557.6" x2="182.94" y2="557.6" stroke="#222" stroke-width="0.85"/>
<line x1="180.7" y1="557.6" x2="183.5" y2="557.6" stroke="#222" stroke-width="0.85"/>
<line x1="182.1" y1="556.2" x2="182.1" y2="559" stroke="#222" stroke-width="0.85"/>
<line x1="193.56" y1="557.6" x2="195.24" y2="557.6" stroke="#222" stroke-width="0.85"/>
<line x1="205.31" y1="557.6" x2="206.99" y2="557.6" stroke="#222" stroke-width="0.85"/>
<line x1="204.75" y1="557.6" x2="207.55" y2="557.6" stroke="#222" stroke-width="0.85"/>
<line x1="206.15" y1="556.2" x2="206.15" y2="559" stroke="#222" stroke-width="0.85"/>
<line x1="217.31" y1="557.6" x2="218.99" y2="557.6" stroke="#222" stroke-width="0.85"/>
<line x1="228.96" y1="557.6" x2="230.64" y2="557.6" stroke="#222" stroke-width="0.85"/>
<line x1="228.4" y1="557.6" x2="231.2" y2="557.6" stroke="#222" stroke-width="0.85"/>
<line x1="229.8" y1="556.2" x2="229.8" y2="559" stroke="#222" stroke-width="0.85"/>
<line x1="241.26" y1="557.6" x2="242.94" y2="557.6" stroke="#222" stroke-width="0.85"/>
<line x1="253.06" y1="557.6" x2="254.74" y2="557.6" stroke="#222" stroke-width="0.85"/>
<line x1="252.5" y1="557.6" x2="255.3" y2="557.6" stroke="#222" stroke-width="0.85"/>
<line x1="253.9" y1="556.2" x2="253.9" y2="559" stroke="#222" stroke-width="0.85"/>
<line x1="163.2" y1="562.3" x2="187.1" y2="562.3" stroke="#444" stroke-width="0.9"/>
<line x1="189.8" y1="562.3" x2="211.4" y2="562.3" stroke="#444" stroke-width="0.9"/>
<line x1="213.6" y1="562.3" x2="234.6" y2="562.3" stroke="#444" stroke-width="0.9"/>
<line x1="237" y1="562.3" x2="258.8" y2="562.3" stroke="#444" stroke-width="0.9"/>
<text x="174.5" y="571.3" font-size="7" text-anchor="middle" fill="#222" stroke="#222" stroke-width="0.1" textLength="8.8" lengthAdjust="spacingAndGlyphs">WT</text>
<line x1="174.5" y1="574.2" x2="174.5" y2="576.3" stroke="#111" stroke-width="1.1"/>
<path d="M172.4 576L176.6 576L174.5 580Z" fill="#111"/>
<text x="174.5" y="587.3" font-size="7" text-anchor="middle" fill="#222" stroke="#222" stroke-width="0.1" textLength="8.8" lengthAdjust="spacingAndGlyphs">WT</text>
<text x="199.5" y="571.3" font-size="7" text-anchor="middle" fill="#222" stroke="#222" stroke-width="0.1" textLength="8.8" lengthAdjust="spacingAndGlyphs">WT</text>
<line x1="199.5" y1="574.2" x2="199.5" y2="576.3" stroke="#111" stroke-width="1.1"/>
<path d="M197.4 576L201.6 576L199.5 580Z" fill="#111"/>
<text x="199.5" y="587.3" font-size="7" text-anchor="middle" fill="#222" stroke="#222" stroke-width="0.1" textLength="14" lengthAdjust="spacingAndGlyphs">Nix-/-</text>
<text x="223" y="571.3" font-size="7" text-anchor="middle" fill="#222" stroke="#222" stroke-width="0.1" textLength="14" lengthAdjust="spacingAndGlyphs">Nix-/-</text>
<line x1="223" y1="574.2" x2="223" y2="576.3" stroke="#111" stroke-width="1.1"/>
<path d="M220.9 576L225.1 576L223 580Z" fill="#111"/>
<text x="223" y="587.3" font-size="7" text-anchor="middle" fill="#222" stroke="#222" stroke-width="0.1" textLength="8.8" lengthAdjust="spacingAndGlyphs">WT</text>
<text x="247.3" y="571.3" font-size="7" text-anchor="middle" fill="#222" stroke="#222" stroke-width="0.1" textLength="14" lengthAdjust="spacingAndGlyphs">Nix-/-</text>
<line x1="247.3" y1="574.2" x2="247.3" y2="576.3" stroke="#111" stroke-width="1.1"/>
<path d="M245.2 576L249.4 576L247.3 580Z" fill="#111"/>
<text x="247.3" y="587.3" font-size="7" text-anchor="middle" fill="#222" stroke="#222" stroke-width="0.1" textLength="14" lengthAdjust="spacingAndGlyphs">Nix-/-</text>
<path d="M169.5 498L169.5 496.5L182.5 496.5L182.5 498" fill="none" stroke="#3a3a3a" stroke-width="0.9"/>
<path d="M174.8 492.55L174.8 494.45M173.97 493.02L175.63 493.98M173.97 493.98L175.63 493.02" stroke="#3a3a3a" stroke-width="0.65" fill="none"/>
<path d="M177.2 492.55L177.2 494.45M176.37 493.02L178.03 493.98M176.37 493.98L178.03 493.02" stroke="#3a3a3a" stroke-width="0.65" fill="none"/>
<path d="M193.5 499L193.5 497.5L206.5 497.5L206.5 499" fill="none" stroke="#3a3a3a" stroke-width="0.9"/>
<path d="M198.78 493.65L198.78 495.55M197.95 494.12L199.6 495.07M197.95 495.07L199.6 494.12" stroke="#3a3a3a" stroke-width="0.65" fill="none"/>
<path d="M201.18 493.65L201.18 495.55M200.35 494.12L202 495.07M200.35 495.07L202 494.12" stroke="#3a3a3a" stroke-width="0.65" fill="none"/>
<path d="M217.5 485L217.5 483.5L229.5 483.5L229.5 485" fill="none" stroke="#3a3a3a" stroke-width="0.9"/>
<path d="M223.68 480.35L223.68 482.25M222.85 480.82L224.5 481.77M222.85 481.77L224.5 480.82" stroke="#3a3a3a" stroke-width="0.65" fill="none"/>
<path d="M241.5 485L241.5 483.5L253.5 483.5L253.5 485" fill="none" stroke="#3a3a3a" stroke-width="0.9"/>
<path d="M247.7 480.35L247.7 482.25M246.87 480.82L248.53 481.77M246.87 481.77L248.53 480.82" stroke="#3a3a3a" stroke-width="0.65" fill="none"/>
<line x1="288.5" y1="479.6" x2="288.5" y2="548.1" stroke="#2a2a2a" stroke-width="1.3"/>
<line x1="285.1" y1="482.5" x2="288.5" y2="482.5" stroke="#2a2a2a" stroke-width="1.1"/>
<line x1="285.1" y1="498.5" x2="288.5" y2="498.5" stroke="#2a2a2a" stroke-width="1.1"/>
<line x1="285.1" y1="514.5" x2="288.5" y2="514.5" stroke="#2a2a2a" stroke-width="1.1"/>
<line x1="285.1" y1="531.5" x2="288.5" y2="531.5" stroke="#2a2a2a" stroke-width="1.1"/>
<line x1="285.1" y1="547.5" x2="288.5" y2="547.5" stroke="#2a2a2a" stroke-width="1.1"/>
<line x1="287.6" y1="547.5" x2="385.9" y2="547.5" stroke="#2a2a2a" stroke-width="1.3"/>
<line x1="295.5" y1="547.5" x2="295.5" y2="549.7" stroke="#2a2a2a" stroke-width="1.1"/>
<line x1="307.5" y1="547.5" x2="307.5" y2="549.7" stroke="#2a2a2a" stroke-width="1.1"/>
<line x1="319.5" y1="547.5" x2="319.5" y2="549.7" stroke="#2a2a2a" stroke-width="1.1"/>
<line x1="331.5" y1="547.5" x2="331.5" y2="549.7" stroke="#2a2a2a" stroke-width="1.1"/>
<line x1="343.5" y1="547.5" x2="343.5" y2="549.7" stroke="#2a2a2a" stroke-width="1.1"/>
<line x1="355.5" y1="547.5" x2="355.5" y2="549.7" stroke="#2a2a2a" stroke-width="1.1"/>
<line x1="367.5" y1="547.5" x2="367.5" y2="549.7" stroke="#2a2a2a" stroke-width="1.1"/>
<line x1="379.5" y1="547.5" x2="379.5" y2="549.7" stroke="#2a2a2a" stroke-width="1.1"/>
<text x="337.6" y="473.6" font-size="8.3" text-anchor="middle" fill="#222" stroke="#222" stroke-width="0.1" textLength="20.6" lengthAdjust="spacingAndGlyphs">COXII</text>
<text x="274" y="559.4" font-size="7" text-anchor="start" fill="#222" stroke="#222" stroke-width="0.1" textLength="13.8" lengthAdjust="spacingAndGlyphs">FCCP</text>
<line x1="295.36" y1="557.6" x2="297.04" y2="557.6" stroke="#222" stroke-width="0.85"/>
<line x1="306.96" y1="557.6" x2="308.64" y2="557.6" stroke="#222" stroke-width="0.85"/>
<line x1="306.4" y1="557.6" x2="309.2" y2="557.6" stroke="#222" stroke-width="0.85"/>
<line x1="307.8" y1="556.2" x2="307.8" y2="559" stroke="#222" stroke-width="0.85"/>
<line x1="319.26" y1="557.6" x2="320.94" y2="557.6" stroke="#222" stroke-width="0.85"/>
<line x1="331.01" y1="557.6" x2="332.69" y2="557.6" stroke="#222" stroke-width="0.85"/>
<line x1="330.45" y1="557.6" x2="333.25" y2="557.6" stroke="#222" stroke-width="0.85"/>
<line x1="331.85" y1="556.2" x2="331.85" y2="559" stroke="#222" stroke-width="0.85"/>
<line x1="343.01" y1="557.6" x2="344.69" y2="557.6" stroke="#222" stroke-width="0.85"/>
<line x1="354.66" y1="557.6" x2="356.34" y2="557.6" stroke="#222" stroke-width="0.85"/>
<line x1="354.1" y1="557.6" x2="356.9" y2="557.6" stroke="#222" stroke-width="0.85"/>
<line x1="355.5" y1="556.2" x2="355.5" y2="559" stroke="#222" stroke-width="0.85"/>
<line x1="366.96" y1="557.6" x2="368.64" y2="557.6" stroke="#222" stroke-width="0.85"/>
<line x1="378.76" y1="557.6" x2="380.44" y2="557.6" stroke="#222" stroke-width="0.85"/>
<line x1="378.2" y1="557.6" x2="381" y2="557.6" stroke="#222" stroke-width="0.85"/>
<line x1="379.6" y1="556.2" x2="379.6" y2="559" stroke="#222" stroke-width="0.85"/>
<line x1="288.8" y1="562.3" x2="312.6" y2="562.3" stroke="#444" stroke-width="0.9"/>
<line x1="315.3" y1="562.3" x2="336.8" y2="562.3" stroke="#444" stroke-width="0.9"/>
<line x1="339" y1="562.3" x2="360.5" y2="562.3" stroke="#444" stroke-width="0.9"/>
<line x1="363" y1="562.3" x2="384.5" y2="562.3" stroke="#444" stroke-width="0.9"/>
<text x="299.9" y="571.3" font-size="7" text-anchor="middle" fill="#222" stroke="#222" stroke-width="0.1" textLength="8.8" lengthAdjust="spacingAndGlyphs">WT</text>
<line x1="299.9" y1="574.2" x2="299.9" y2="576.3" stroke="#111" stroke-width="1.1"/>
<path d="M297.8 576L302 576L299.9 580Z" fill="#111"/>
<text x="299.9" y="587.3" font-size="7" text-anchor="middle" fill="#222" stroke="#222" stroke-width="0.1" textLength="8.8" lengthAdjust="spacingAndGlyphs">WT</text>
<text x="325.2" y="571.3" font-size="7" text-anchor="middle" fill="#222" stroke="#222" stroke-width="0.1" textLength="8.8" lengthAdjust="spacingAndGlyphs">WT</text>
<line x1="325.2" y1="574.2" x2="325.2" y2="576.3" stroke="#111" stroke-width="1.1"/>
<path d="M323.1 576L327.3 576L325.2 580Z" fill="#111"/>
<text x="325.2" y="587.3" font-size="7" text-anchor="middle" fill="#222" stroke="#222" stroke-width="0.1" textLength="14" lengthAdjust="spacingAndGlyphs">Nix-/-</text>
<text x="349" y="571.3" font-size="7" text-anchor="middle" fill="#222" stroke="#222" stroke-width="0.1" textLength="14" lengthAdjust="spacingAndGlyphs">Nix-/-</text>
<line x1="349" y1="574.2" x2="349" y2="576.3" stroke="#111" stroke-width="1.1"/>
<path d="M346.9 576L351.1 576L349 580Z" fill="#111"/>
<text x="349" y="587.3" font-size="7" text-anchor="middle" fill="#222" stroke="#222" stroke-width="0.1" textLength="8.8" lengthAdjust="spacingAndGlyphs">WT</text>
<text x="373.2" y="571.3" font-size="7" text-anchor="middle" fill="#222" stroke="#222" stroke-width="0.1" textLength="14" lengthAdjust="spacingAndGlyphs">Nix-/-</text>
<line x1="373.2" y1="574.2" x2="373.2" y2="576.3" stroke="#111" stroke-width="1.1"/>
<path d="M371.1 576L375.3 576L373.2 580Z" fill="#111"/>
<text x="373.2" y="587.3" font-size="7" text-anchor="middle" fill="#222" stroke="#222" stroke-width="0.1" textLength="14" lengthAdjust="spacingAndGlyphs">Nix-/-</text>
<path d="M295.5 498L295.5 496.5L307.5 496.5L307.5 498" fill="none" stroke="#3a3a3a" stroke-width="0.9"/>
<path d="M300.5 492.55L300.5 494.45M299.67 493.02L301.33 493.98M299.67 493.98L301.33 493.02" stroke="#3a3a3a" stroke-width="0.65" fill="none"/>
<path d="M302.9 492.55L302.9 494.45M302.07 493.02L303.73 493.98M302.07 493.98L303.73 493.02" stroke="#3a3a3a" stroke-width="0.65" fill="none"/>
<path d="M319.5 499L319.5 497.5L331.5 497.5L331.5 499" fill="none" stroke="#3a3a3a" stroke-width="0.9"/>
<path d="M324.48 493.65L324.48 495.55M323.65 494.12L325.3 495.07M323.65 495.07L325.3 494.12" stroke="#3a3a3a" stroke-width="0.65" fill="none"/>
<path d="M326.88 493.65L326.88 495.55M326.05 494.12L327.7 495.07M326.05 495.07L327.7 494.12" stroke="#3a3a3a" stroke-width="0.65" fill="none"/>
<path d="M343.5 485L343.5 483.5L355.5 483.5L355.5 485" fill="none" stroke="#3a3a3a" stroke-width="0.9"/>
<path d="M349.38 480.35L349.38 482.25M348.55 480.82L350.2 481.77M348.55 481.77L350.2 480.82" stroke="#3a3a3a" stroke-width="0.65" fill="none"/>
<path d="M367.5 485L367.5 483.5L379.5 483.5L379.5 485" fill="none" stroke="#3a3a3a" stroke-width="0.9"/>
<path d="M373.4 480.35L373.4 482.25M372.57 480.82L374.23 481.77M372.57 481.77L374.23 480.82" stroke="#3a3a3a" stroke-width="0.65" fill="none"/>
<line x1="413.5" y1="479.6" x2="413.5" y2="548.1" stroke="#2a2a2a" stroke-width="1.3"/>
<line x1="410.1" y1="482.5" x2="413.5" y2="482.5" stroke="#2a2a2a" stroke-width="1.1"/>
<line x1="410.1" y1="498.5" x2="413.5" y2="498.5" stroke="#2a2a2a" stroke-width="1.1"/>
<line x1="410.1" y1="514.5" x2="413.5" y2="514.5" stroke="#2a2a2a" stroke-width="1.1"/>
<line x1="410.1" y1="531.5" x2="413.5" y2="531.5" stroke="#2a2a2a" stroke-width="1.1"/>
<line x1="410.1" y1="547.5" x2="413.5" y2="547.5" stroke="#2a2a2a" stroke-width="1.1"/>
<line x1="412.6" y1="547.5" x2="511.8" y2="547.5" stroke="#2a2a2a" stroke-width="1.3"/>
<line x1="420.5" y1="547.5" x2="420.5" y2="549.7" stroke="#2a2a2a" stroke-width="1.1"/>
<line x1="432.5" y1="547.5" x2="432.5" y2="549.7" stroke="#2a2a2a" stroke-width="1.1"/>
<line x1="444.5" y1="547.5" x2="444.5" y2="549.7" stroke="#2a2a2a" stroke-width="1.1"/>
<line x1="456.5" y1="547.5" x2="456.5" y2="549.7" stroke="#2a2a2a" stroke-width="1.1"/>
<line x1="468.5" y1="547.5" x2="468.5" y2="549.7" stroke="#2a2a2a" stroke-width="1.1"/>
<line x1="480.5" y1="547.5" x2="480.5" y2="549.7" stroke="#2a2a2a" stroke-width="1.1"/>
<line x1="492.5" y1="547.5" x2="492.5" y2="549.7" stroke="#2a2a2a" stroke-width="1.1"/>
<line x1="504.5" y1="547.5" x2="504.5" y2="549.7" stroke="#2a2a2a" stroke-width="1.1"/>
<text x="463" y="473.6" font-size="8.3" text-anchor="middle" fill="#222" stroke="#222" stroke-width="0.1" textLength="13.4" lengthAdjust="spacingAndGlyphs">P62</text>
<text x="400.2" y="559.4" font-size="7" text-anchor="start" fill="#222" stroke="#222" stroke-width="0.1" textLength="13.8" lengthAdjust="spacingAndGlyphs">FCCP</text>
<line x1="420.36" y1="557.6" x2="422.04" y2="557.6" stroke="#222" stroke-width="0.85"/>
<line x1="431.96" y1="557.6" x2="433.64" y2="557.6" stroke="#222" stroke-width="0.85"/>
<line x1="431.4" y1="557.6" x2="434.2" y2="557.6" stroke="#222" stroke-width="0.85"/>
<line x1="432.8" y1="556.2" x2="432.8" y2="559" stroke="#222" stroke-width="0.85"/>
<line x1="444.26" y1="557.6" x2="445.94" y2="557.6" stroke="#222" stroke-width="0.85"/>
<line x1="456.01" y1="557.6" x2="457.69" y2="557.6" stroke="#222" stroke-width="0.85"/>
<line x1="455.45" y1="557.6" x2="458.25" y2="557.6" stroke="#222" stroke-width="0.85"/>
<line x1="456.85" y1="556.2" x2="456.85" y2="559" stroke="#222" stroke-width="0.85"/>
<line x1="468.01" y1="557.6" x2="469.69" y2="557.6" stroke="#222" stroke-width="0.85"/>
<line x1="479.66" y1="557.6" x2="481.34" y2="557.6" stroke="#222" stroke-width="0.85"/>
<line x1="479.1" y1="557.6" x2="481.9" y2="557.6" stroke="#222" stroke-width="0.85"/>
<line x1="480.5" y1="556.2" x2="480.5" y2="559" stroke="#222" stroke-width="0.85"/>
<line x1="491.96" y1="557.6" x2="493.64" y2="557.6" stroke="#222" stroke-width="0.85"/>
<line x1="503.76" y1="557.6" x2="505.44" y2="557.6" stroke="#222" stroke-width="0.85"/>
<line x1="503.2" y1="557.6" x2="506" y2="557.6" stroke="#222" stroke-width="0.85"/>
<line x1="504.6" y1="556.2" x2="504.6" y2="559" stroke="#222" stroke-width="0.85"/>
<line x1="414.5" y1="562.3" x2="438" y2="562.3" stroke="#444" stroke-width="0.9"/>
<line x1="441.2" y1="562.3" x2="463.6" y2="562.3" stroke="#444" stroke-width="0.9"/>
<line x1="465.4" y1="562.3" x2="486.5" y2="562.3" stroke="#444" stroke-width="0.9"/>
<line x1="489.2" y1="562.3" x2="510.7" y2="562.3" stroke="#444" stroke-width="0.9"/>
<text x="425.8" y="571.3" font-size="7" text-anchor="middle" fill="#222" stroke="#222" stroke-width="0.1" textLength="8.8" lengthAdjust="spacingAndGlyphs">WT</text>
<line x1="425.8" y1="574.2" x2="425.8" y2="576.3" stroke="#111" stroke-width="1.1"/>
<path d="M423.7 576L427.9 576L425.8 580Z" fill="#111"/>
<text x="425.8" y="587.3" font-size="7" text-anchor="middle" fill="#222" stroke="#222" stroke-width="0.1" textLength="8.8" lengthAdjust="spacingAndGlyphs">WT</text>
<text x="451.4" y="571.3" font-size="7" text-anchor="middle" fill="#222" stroke="#222" stroke-width="0.1" textLength="8.8" lengthAdjust="spacingAndGlyphs">WT</text>
<line x1="451.4" y1="574.2" x2="451.4" y2="576.3" stroke="#111" stroke-width="1.1"/>
<path d="M449.3 576L453.5 576L451.4 580Z" fill="#111"/>
<text x="451.4" y="587.3" font-size="7" text-anchor="middle" fill="#222" stroke="#222" stroke-width="0.1" textLength="14" lengthAdjust="spacingAndGlyphs">Nix-/-</text>
<text x="474.3" y="571.3" font-size="7" text-anchor="middle" fill="#222" stroke="#222" stroke-width="0.1" textLength="14" lengthAdjust="spacingAndGlyphs">Nix-/-</text>
<line x1="474.3" y1="574.2" x2="474.3" y2="576.3" stroke="#111" stroke-width="1.1"/>
<path d="M472.2 576L476.4 576L474.3 580Z" fill="#111"/>
<text x="474.3" y="587.3" font-size="7" text-anchor="middle" fill="#222" stroke="#222" stroke-width="0.1" textLength="8.8" lengthAdjust="spacingAndGlyphs">WT</text>
<text x="498.6" y="571.3" font-size="7" text-anchor="middle" fill="#222" stroke="#222" stroke-width="0.1" textLength="14" lengthAdjust="spacingAndGlyphs">Nix-/-</text>
<line x1="498.6" y1="574.2" x2="498.6" y2="576.3" stroke="#111" stroke-width="1.1"/>
<path d="M496.5 576L500.7 576L498.6 580Z" fill="#111"/>
<text x="498.6" y="587.3" font-size="7" text-anchor="middle" fill="#222" stroke="#222" stroke-width="0.1" textLength="14" lengthAdjust="spacingAndGlyphs">Nix-/-</text>
<path d="M420.5 498L420.5 496.5L432.5 496.5L432.5 498" fill="none" stroke="#3a3a3a" stroke-width="0.9"/>
<path d="M425.5 492.55L425.5 494.45M424.67 493.02L426.33 493.98M424.67 493.98L426.33 493.02" stroke="#3a3a3a" stroke-width="0.65" fill="none"/>
<path d="M427.9 492.55L427.9 494.45M427.07 493.02L428.73 493.98M427.07 493.98L428.73 493.02" stroke="#3a3a3a" stroke-width="0.65" fill="none"/>
<path d="M444.5 499L444.5 497.5L456.5 497.5L456.5 499" fill="none" stroke="#3a3a3a" stroke-width="0.9"/>
<path d="M449.48 493.65L449.48 495.55M448.65 494.12L450.3 495.07M448.65 495.07L450.3 494.12" stroke="#3a3a3a" stroke-width="0.65" fill="none"/>
<path d="M451.88 493.65L451.88 495.55M451.05 494.12L452.7 495.07M451.05 495.07L452.7 494.12" stroke="#3a3a3a" stroke-width="0.65" fill="none"/>
<path d="M468.5 485L468.5 483.5L480.5 483.5L480.5 485" fill="none" stroke="#3a3a3a" stroke-width="0.9"/>
<path d="M474.38 480.35L474.38 482.25M473.55 480.82L475.2 481.77M473.55 481.77L475.2 480.82" stroke="#3a3a3a" stroke-width="0.65" fill="none"/>
<path d="M492.5 485L492.5 483.5L504.5 483.5L504.5 485" fill="none" stroke="#3a3a3a" stroke-width="0.9"/>
<path d="M498.4 480.35L498.4 482.25M497.57 480.82L499.23 481.77M497.57 481.77L499.23 480.82" stroke="#3a3a3a" stroke-width="0.65" fill="none"/>
<circle cx="42.4" cy="514.6" r="1.45" fill="#c94f2b"/>
<circle cx="44.1" cy="514.6" r="1.45" fill="#c94f2b"/>
<circle cx="45.9" cy="514.6" r="1.45" fill="#c94f2b"/>
<circle cx="47.6" cy="514.6" r="1.45" fill="#c94f2b"/>
<path d="M54 537.11L55.49 538.6L54 540.1L52.51 538.6Z" fill="#c2629f"/>
<path d="M56.4 535.4L57.89 536.9L56.4 538.39L54.91 536.9Z" fill="#c2629f"/>
<path d="M58.9 536.8L60.39 538.3L58.9 539.79L57.41 538.3Z" fill="#c2629f"/>
<path d="M56.7 539.71L58.2 541.2L56.7 542.7L55.21 541.2Z" fill="#c2629f"/>
<line x1="53.1" y1="538.5" x2="60.1" y2="538.5" stroke="#1e1e1e" stroke-width="0.8"/>
<path d="M68 506.61L69.7 509.68L66.3 509.68Z" fill="#43aebf"/>
<path d="M70.8 511.61L72.5 514.68L69.09 514.68Z" fill="#43aebf"/>
<path d="M66.6 514.41L68.3 517.48L64.89 517.48Z" fill="#43aebf"/>
<line x1="68.5" y1="510.5" x2="68.5" y2="514.5" stroke="#1e1e1e" stroke-width="0.8"/>
<line x1="66.2" y1="510.5" x2="70.6" y2="510.5" stroke="#1e1e1e" stroke-width="0.8"/>
<line x1="66.2" y1="514.5" x2="70.6" y2="514.5" stroke="#1e1e1e" stroke-width="0.8"/>
<line x1="64.4" y1="511.5" x2="72.4" y2="511.5" stroke="#1e1e1e" stroke-width="0.8"/>
<rect x="79.03" y="533.33" width="2.94" height="2.94" fill="#4e3490"/>
<rect x="81.63" y="538.53" width="2.94" height="2.94" fill="#4e3490"/>
<rect x="77.13" y="542.53" width="2.94" height="2.94" fill="#4e3490"/>
<line x1="80.5" y1="537.5" x2="80.5" y2="542.5" stroke="#1e1e1e" stroke-width="0.8"/>
<line x1="78" y1="537.5" x2="82.4" y2="537.5" stroke="#1e1e1e" stroke-width="0.8"/>
<line x1="78" y1="542.5" x2="82.4" y2="542.5" stroke="#1e1e1e" stroke-width="0.8"/>
<line x1="76.2" y1="539.5" x2="84.2" y2="539.5" stroke="#1e1e1e" stroke-width="0.8"/>
<circle cx="88.2" cy="493" r="2.85" fill="#c94f2b"/>
<circle cx="94.5" cy="499.3" r="2.85" fill="#c94f2b"/>
<circle cx="92.3" cy="508" r="2.85" fill="#c94f2b"/>
<line x1="91.5" y1="495.5" x2="91.5" y2="504.5" stroke="#1e1e1e" stroke-width="0.8"/>
<line x1="89.2" y1="495.5" x2="93.2" y2="495.5" stroke="#1e1e1e" stroke-width="0.8"/>
<line x1="89.2" y1="504.5" x2="93.2" y2="504.5" stroke="#1e1e1e" stroke-width="0.8"/>
<line x1="88" y1="500.5" x2="94.4" y2="500.5" stroke="#1e1e1e" stroke-width="0.8"/>
<path d="M104.2 505.41L107.19 508.4L104.2 511.39L101.21 508.4Z" fill="#c2629f"/>
<path d="M104.2 512.01L107.19 515L104.2 517.99L101.21 515Z" fill="#c2629f"/>
<line x1="100.2" y1="512.5" x2="108.2" y2="512.5" stroke="#1e1e1e" stroke-width="0.8"/>
<path d="M116.1 493.97L118.96 499.12L113.24 499.12Z" fill="#43aebf"/>
<path d="M119.8 500.37L122.66 505.52L116.94 505.52Z" fill="#43aebf"/>
<path d="M114 504.77L116.86 509.92L111.14 509.92Z" fill="#43aebf"/>
<line x1="115.5" y1="500.5" x2="115.5" y2="504.5" stroke="#1e1e1e" stroke-width="0.8"/>
<line x1="113.9" y1="500.5" x2="117.5" y2="500.5" stroke="#1e1e1e" stroke-width="0.8"/>
<line x1="113.9" y1="504.5" x2="117.5" y2="504.5" stroke="#1e1e1e" stroke-width="0.8"/>
<line x1="112.5" y1="502.5" x2="118.9" y2="502.5" stroke="#1e1e1e" stroke-width="0.8"/>
<rect x="125.19" y="508.09" width="5.42" height="5.42" fill="#4e3490"/>
<rect x="129.79" y="512.69" width="5.42" height="5.42" fill="#4e3490"/>
<rect x="123.39" y="516.09" width="5.42" height="5.42" fill="#4e3490"/>
<rect x="124.89" y="512.29" width="5.42" height="5.42" fill="#4e3490"/>
<line x1="127.5" y1="514.5" x2="127.5" y2="516.5" stroke="#888" stroke-width="0.8"/>
<line x1="125.8" y1="514.5" x2="129" y2="514.5" stroke="#888" stroke-width="0.8"/>
<line x1="125.8" y1="516.5" x2="129" y2="516.5" stroke="#888" stroke-width="0.8"/>
<line x1="124.4" y1="515.5" x2="130.4" y2="515.5" stroke="#888" stroke-width="0.8"/>
<circle cx="167.7" cy="514.6" r="1.45" fill="#c94f2b"/>
<circle cx="169.4" cy="514.6" r="1.45" fill="#c94f2b"/>
<circle cx="171.2" cy="514.6" r="1.45" fill="#c94f2b"/>
<circle cx="172.9" cy="514.6" r="1.45" fill="#c94f2b"/>
<path d="M182 531.32L183.78 533.1L182 534.88L180.22 533.1Z" fill="#c2629f"/>
<path d="M180.4 536.22L182.18 538L180.4 539.78L178.62 538Z" fill="#c2629f"/>
<path d="M183.5 538.72L185.28 540.5L183.5 542.28L181.72 540.5Z" fill="#c2629f"/>
<path d="M180.8 540.42L182.58 542.2L180.8 543.98L179.02 542.2Z" fill="#c2629f"/>
<line x1="181.5" y1="535.5" x2="181.5" y2="540.5" stroke="#1e1e1e" stroke-width="0.8"/>
<line x1="179.6" y1="535.5" x2="184" y2="535.5" stroke="#1e1e1e" stroke-width="0.8"/>
<line x1="179.6" y1="540.5" x2="184" y2="540.5" stroke="#1e1e1e" stroke-width="0.8"/>
<line x1="177.8" y1="538.5" x2="185.8" y2="538.5" stroke="#1e1e1e" stroke-width="0.8"/>
<path d="M194.1 500.61L195.81 503.68L192.39 503.68Z" fill="#43aebf"/>
<path d="M192 506.31L193.71 509.38L190.29 509.38Z" fill="#43aebf"/>
<path d="M195.6 504.81L197.31 507.88L193.89 507.88Z" fill="#43aebf"/>
<line x1="194.5" y1="503.5" x2="194.5" y2="506.5" stroke="#1e1e1e" stroke-width="0.8"/>
<line x1="191.8" y1="503.5" x2="196.2" y2="503.5" stroke="#1e1e1e" stroke-width="0.8"/>
<line x1="191.8" y1="506.5" x2="196.2" y2="506.5" stroke="#1e1e1e" stroke-width="0.8"/>
<line x1="190" y1="504.5" x2="198" y2="504.5" stroke="#1e1e1e" stroke-width="0.8"/>
<rect x="204.23" y="533.83" width="2.94" height="2.94" fill="#4e3490"/>
<rect x="205.93" y="536.93" width="2.94" height="2.94" fill="#4e3490"/>
<rect x="202.53" y="540.73" width="2.94" height="2.94" fill="#4e3490"/>
<line x1="205.5" y1="536.5" x2="205.5" y2="541.5" stroke="#1e1e1e" stroke-width="0.8"/>
<line x1="203.6" y1="536.5" x2="208" y2="536.5" stroke="#1e1e1e" stroke-width="0.8"/>
<line x1="203.6" y1="541.5" x2="208" y2="541.5" stroke="#1e1e1e" stroke-width="0.8"/>
<line x1="201.8" y1="538.5" x2="209.8" y2="538.5" stroke="#1e1e1e" stroke-width="0.8"/>
<circle cx="217.4" cy="492.3" r="2.85" fill="#c94f2b"/>
<circle cx="217.4" cy="500.8" r="2.85" fill="#c94f2b"/>
<circle cx="217.4" cy="508.8" r="2.85" fill="#c94f2b"/>
<line x1="217.5" y1="496.5" x2="217.5" y2="505.5" stroke="#1e1e1e" stroke-width="0.8"/>
<line x1="215.7" y1="496.5" x2="219.7" y2="496.5" stroke="#1e1e1e" stroke-width="0.8"/>
<line x1="215.7" y1="505.5" x2="219.7" y2="505.5" stroke="#1e1e1e" stroke-width="0.8"/>
<line x1="214.5" y1="500.5" x2="220.9" y2="500.5" stroke="#1e1e1e" stroke-width="0.8"/>
<path d="M229.4 504.81L232.39 507.8L229.4 510.79L226.41 507.8Z" fill="#c2629f"/>
<path d="M233.6 509.61L236.59 512.6L233.6 515.59L230.61 512.6Z" fill="#c2629f"/>
<path d="M228 515.31L230.99 518.3L228 521.29L225.01 518.3Z" fill="#c2629f"/>
<line x1="229.5" y1="511.5" x2="229.5" y2="515.5" stroke="#1e1e1e" stroke-width="0.8"/>
<line x1="227.6" y1="511.5" x2="231.6" y2="511.5" stroke="#1e1e1e" stroke-width="0.8"/>
<line x1="227.6" y1="515.5" x2="231.6" y2="515.5" stroke="#1e1e1e" stroke-width="0.8"/>
<line x1="226.1" y1="513.5" x2="233.1" y2="513.5" stroke="#1e1e1e" stroke-width="0.8"/>
<path d="M237 489.17L239.86 494.32L234.14 494.32Z" fill="#43aebf"/>
<path d="M243.4 494.27L246.26 499.42L240.54 499.42Z" fill="#43aebf"/>
<path d="M241.3 508.17L244.16 513.32L238.44 513.32Z" fill="#43aebf"/>
<line x1="241.5" y1="494.5" x2="241.5" y2="505.5" stroke="#1e1e1e" stroke-width="0.8"/>
<line x1="239.6" y1="494.5" x2="243.6" y2="494.5" stroke="#1e1e1e" stroke-width="0.8"/>
<line x1="239.6" y1="505.5" x2="243.6" y2="505.5" stroke="#1e1e1e" stroke-width="0.8"/>
<line x1="238.1" y1="499.5" x2="245.1" y2="499.5" stroke="#1e1e1e" stroke-width="0.8"/>
<rect x="250.59" y="505.09" width="5.42" height="5.42" fill="#4e3490"/>
<rect x="254.79" y="507.19" width="5.42" height="5.42" fill="#4e3490"/>
<rect x="249.09" y="513.49" width="5.42" height="5.42" fill="#4e3490"/>
<line x1="253.5" y1="509.5" x2="253.5" y2="513.5" stroke="#1e1e1e" stroke-width="0.8"/>
<line x1="251.5" y1="509.5" x2="255.5" y2="509.5" stroke="#1e1e1e" stroke-width="0.8"/>
<line x1="251.5" y1="513.5" x2="255.5" y2="513.5" stroke="#1e1e1e" stroke-width="0.8"/>
<line x1="250" y1="511.5" x2="257" y2="511.5" stroke="#1e1e1e" stroke-width="0.8"/>
<circle cx="293.3" cy="514.6" r="1.45" fill="#c94f2b"/>
<circle cx="295" cy="514.6" r="1.45" fill="#c94f2b"/>
<circle cx="296.8" cy="514.6" r="1.45" fill="#c94f2b"/>
<circle cx="298.5" cy="514.6" r="1.45" fill="#c94f2b"/>
<path d="M305 538.9L306.5 540.4L305 541.89L303.5 540.4Z" fill="#c2629f"/>
<path d="M307.4 536.4L308.89 537.9L307.4 539.39L305.9 537.9Z" fill="#c2629f"/>
<path d="M309.6 538.3L311.1 539.8L309.6 541.29L308.11 539.8Z" fill="#c2629f"/>
<path d="M307.2 540.8L308.69 542.3L307.2 543.79L305.7 542.3Z" fill="#c2629f"/>
<line x1="303.8" y1="540.5" x2="310.8" y2="540.5" stroke="#1e1e1e" stroke-width="0.8"/>
<path d="M319.4 508.41L321.1 511.48L317.69 511.48Z" fill="#43aebf"/>
<path d="M318.2 515.81L319.9 518.88L316.5 518.88Z" fill="#43aebf"/>
<path d="M321.2 514.81L322.9 517.88L319.5 517.88Z" fill="#43aebf"/>
<line x1="319.5" y1="512.5" x2="319.5" y2="516.5" stroke="#1e1e1e" stroke-width="0.8"/>
<line x1="317.4" y1="512.5" x2="321.8" y2="512.5" stroke="#1e1e1e" stroke-width="0.8"/>
<line x1="317.4" y1="516.5" x2="321.8" y2="516.5" stroke="#1e1e1e" stroke-width="0.8"/>
<line x1="315.6" y1="514.5" x2="323.6" y2="514.5" stroke="#1e1e1e" stroke-width="0.8"/>
<rect x="329.73" y="532.33" width="2.94" height="2.94" fill="#4e3490"/>
<rect x="329.73" y="539.53" width="2.94" height="2.94" fill="#4e3490"/>
<rect x="329.73" y="543.33" width="2.94" height="2.94" fill="#4e3490"/>
<line x1="331.5" y1="537.5" x2="331.5" y2="542.5" stroke="#1e1e1e" stroke-width="0.8"/>
<line x1="329.2" y1="537.5" x2="333.6" y2="537.5" stroke="#1e1e1e" stroke-width="0.8"/>
<line x1="329.2" y1="542.5" x2="333.6" y2="542.5" stroke="#1e1e1e" stroke-width="0.8"/>
<line x1="327.4" y1="539.5" x2="335.4" y2="539.5" stroke="#1e1e1e" stroke-width="0.8"/>
<circle cx="343" cy="497.8" r="2.85" fill="#c94f2b"/>
<circle cx="347.7" cy="503.5" r="2.85" fill="#c94f2b"/>
<circle cx="341.7" cy="506.7" r="2.85" fill="#c94f2b"/>
<line x1="343.5" y1="500.5" x2="343.5" y2="505.5" stroke="#1e1e1e" stroke-width="0.8"/>
<line x1="341" y1="500.5" x2="345" y2="500.5" stroke="#1e1e1e" stroke-width="0.8"/>
<line x1="341" y1="505.5" x2="345" y2="505.5" stroke="#1e1e1e" stroke-width="0.8"/>
<line x1="339.8" y1="502.5" x2="346.2" y2="502.5" stroke="#1e1e1e" stroke-width="0.8"/>
<path d="M355 511.31L357.99 514.3L355 517.29L352.01 514.3Z" fill="#c2629f"/>
<path d="M355 515.31L357.99 518.3L355 521.29L352.01 518.3Z" fill="#c2629f"/>
<line x1="351" y1="516.5" x2="359" y2="516.5" stroke="#1e1e1e" stroke-width="0.8"/>
<path d="M367.1 500.17L369.96 505.32L364.24 505.32Z" fill="#43aebf"/>
<path d="M371.3 507.57L374.16 512.72L368.44 512.72Z" fill="#43aebf"/>
<path d="M365.2 512.37L368.06 517.52L362.34 517.52Z" fill="#43aebf"/>
<line x1="367.5" y1="506.5" x2="367.5" y2="511.5" stroke="#1e1e1e" stroke-width="0.8"/>
<line x1="365.5" y1="506.5" x2="369.5" y2="506.5" stroke="#1e1e1e" stroke-width="0.8"/>
<line x1="365.5" y1="511.5" x2="369.5" y2="511.5" stroke="#1e1e1e" stroke-width="0.8"/>
<line x1="364" y1="508.5" x2="371" y2="508.5" stroke="#1e1e1e" stroke-width="0.8"/>
<rect x="376.34" y="511.94" width="5.32" height="5.32" fill="#4e3490"/>
<rect x="376.34" y="515.94" width="5.32" height="5.32" fill="#4e3490"/>
<rect x="376.34" y="519.94" width="5.32" height="5.32" fill="#4e3490"/>
<line x1="375.5" y1="518.5" x2="382.5" y2="518.5" stroke="#1e1e1e" stroke-width="0.8"/>
<circle cx="418.8" cy="514.6" r="1.45" fill="#c94f2b"/>
<circle cx="420.5" cy="514.6" r="1.45" fill="#c94f2b"/>
<circle cx="422.3" cy="514.6" r="1.45" fill="#c94f2b"/>
<circle cx="424" cy="514.6" r="1.45" fill="#c94f2b"/>
<path d="M431.4 535.62L433.18 537.4L431.4 539.18L429.62 537.4Z" fill="#c2629f"/>
<path d="M434.6 536.62L436.38 538.4L434.6 540.18L432.82 538.4Z" fill="#c2629f"/>
<path d="M432.5 543.62L434.28 545.4L432.5 547.18L430.72 545.4Z" fill="#c2629f"/>
<path d="M430.5 538.62L432.28 540.4L430.5 542.18L428.72 540.4Z" fill="#c2629f"/>
<line x1="432.5" y1="538.5" x2="432.5" y2="543.5" stroke="#1e1e1e" stroke-width="0.8"/>
<line x1="430.4" y1="538.5" x2="434.8" y2="538.5" stroke="#1e1e1e" stroke-width="0.8"/>
<line x1="430.4" y1="543.5" x2="434.8" y2="543.5" stroke="#1e1e1e" stroke-width="0.8"/>
<line x1="428.6" y1="540.5" x2="436.6" y2="540.5" stroke="#1e1e1e" stroke-width="0.8"/>
<path d="M445.2 508.41L446.9 511.48L443.5 511.48Z" fill="#43aebf"/>
<path d="M447.3 512.61L449 515.68L445.6 515.68Z" fill="#43aebf"/>
<path d="M443.5 515.81L445.2 518.88L441.8 518.88Z" fill="#43aebf"/>
<line x1="445.5" y1="512.5" x2="445.5" y2="515.5" stroke="#1e1e1e" stroke-width="0.8"/>
<line x1="442.8" y1="512.5" x2="447.2" y2="512.5" stroke="#1e1e1e" stroke-width="0.8"/>
<line x1="442.8" y1="515.5" x2="447.2" y2="515.5" stroke="#1e1e1e" stroke-width="0.8"/>
<line x1="441" y1="514.5" x2="449" y2="514.5" stroke="#1e1e1e" stroke-width="0.8"/>
<rect x="455.33" y="531.63" width="2.94" height="2.94" fill="#4e3490"/>
<rect x="455.33" y="536.93" width="2.94" height="2.94" fill="#4e3490"/>
<rect x="455.33" y="542.23" width="2.94" height="2.94" fill="#4e3490"/>
<line x1="456.5" y1="536.5" x2="456.5" y2="541.5" stroke="#1e1e1e" stroke-width="0.8"/>
<line x1="454.6" y1="536.5" x2="459" y2="536.5" stroke="#1e1e1e" stroke-width="0.8"/>
<line x1="454.6" y1="541.5" x2="459" y2="541.5" stroke="#1e1e1e" stroke-width="0.8"/>
<line x1="452.8" y1="538.5" x2="460.8" y2="538.5" stroke="#1e1e1e" stroke-width="0.8"/>
<circle cx="469.4" cy="514.4" r="2.8" fill="#c94f2b"/>
<circle cx="469.4" cy="516.4" r="2.8" fill="#c94f2b"/>
<circle cx="469.4" cy="518.2" r="2.8" fill="#c94f2b"/>
<line x1="465.5" y1="516.5" x2="472.5" y2="516.5" stroke="#1e1e1e" stroke-width="0.8"/>
<path d="M479.6 517.51L482.59 520.5L479.6 523.49L476.61 520.5Z" fill="#c2629f"/>
<path d="M481.8 517.51L484.79 520.5L481.8 523.49L478.81 520.5Z" fill="#c2629f"/>
<line x1="477.2" y1="520.5" x2="484.2" y2="520.5" stroke="#1e1e1e" stroke-width="0.8"/>
<path d="M492.7 508.67L495.56 513.82L489.84 513.82Z" fill="#43aebf"/>
<path d="M492.2 510.97L495.06 516.12L489.34 516.12Z" fill="#43aebf"/>
<path d="M493.2 512.97L496.06 518.12L490.34 518.12Z" fill="#43aebf"/>
<line x1="489.2" y1="513.5" x2="496.2" y2="513.5" stroke="#1e1e1e" stroke-width="0.8"/>
<rect x="501.94" y="513.34" width="5.32" height="5.32" fill="#4e3490"/>
<rect x="501.94" y="516.94" width="5.32" height="5.32" fill="#4e3490"/>
<rect x="501.94" y="519.94" width="5.32" height="5.32" fill="#4e3490"/>
<line x1="501.1" y1="519.5" x2="508.1" y2="519.5" stroke="#1e1e1e" stroke-width="0.8"/>
<rect x="0" y="1" width="520" height="1" fill="#a5a5a5"/>
<rect x="0" y="594" width="520" height="1" fill="#bdbdbd"/>
<rect x="1" y="0" width="1" height="596" fill="#b0b0b0"/>
<rect x="518" y="0" width="1" height="596" fill="#8a8a8a"/>
<rect x="0" y="0" width="520" height="1" fill="#4b4b4b"/>
<rect x="0" y="595" width="520" height="1" fill="#505050"/>
<rect x="0" y="0" width="1" height="596" fill="#000"/>
<rect x="519" y="0" width="1" height="596" fill="#000"/>
</svg>
</body></html>
